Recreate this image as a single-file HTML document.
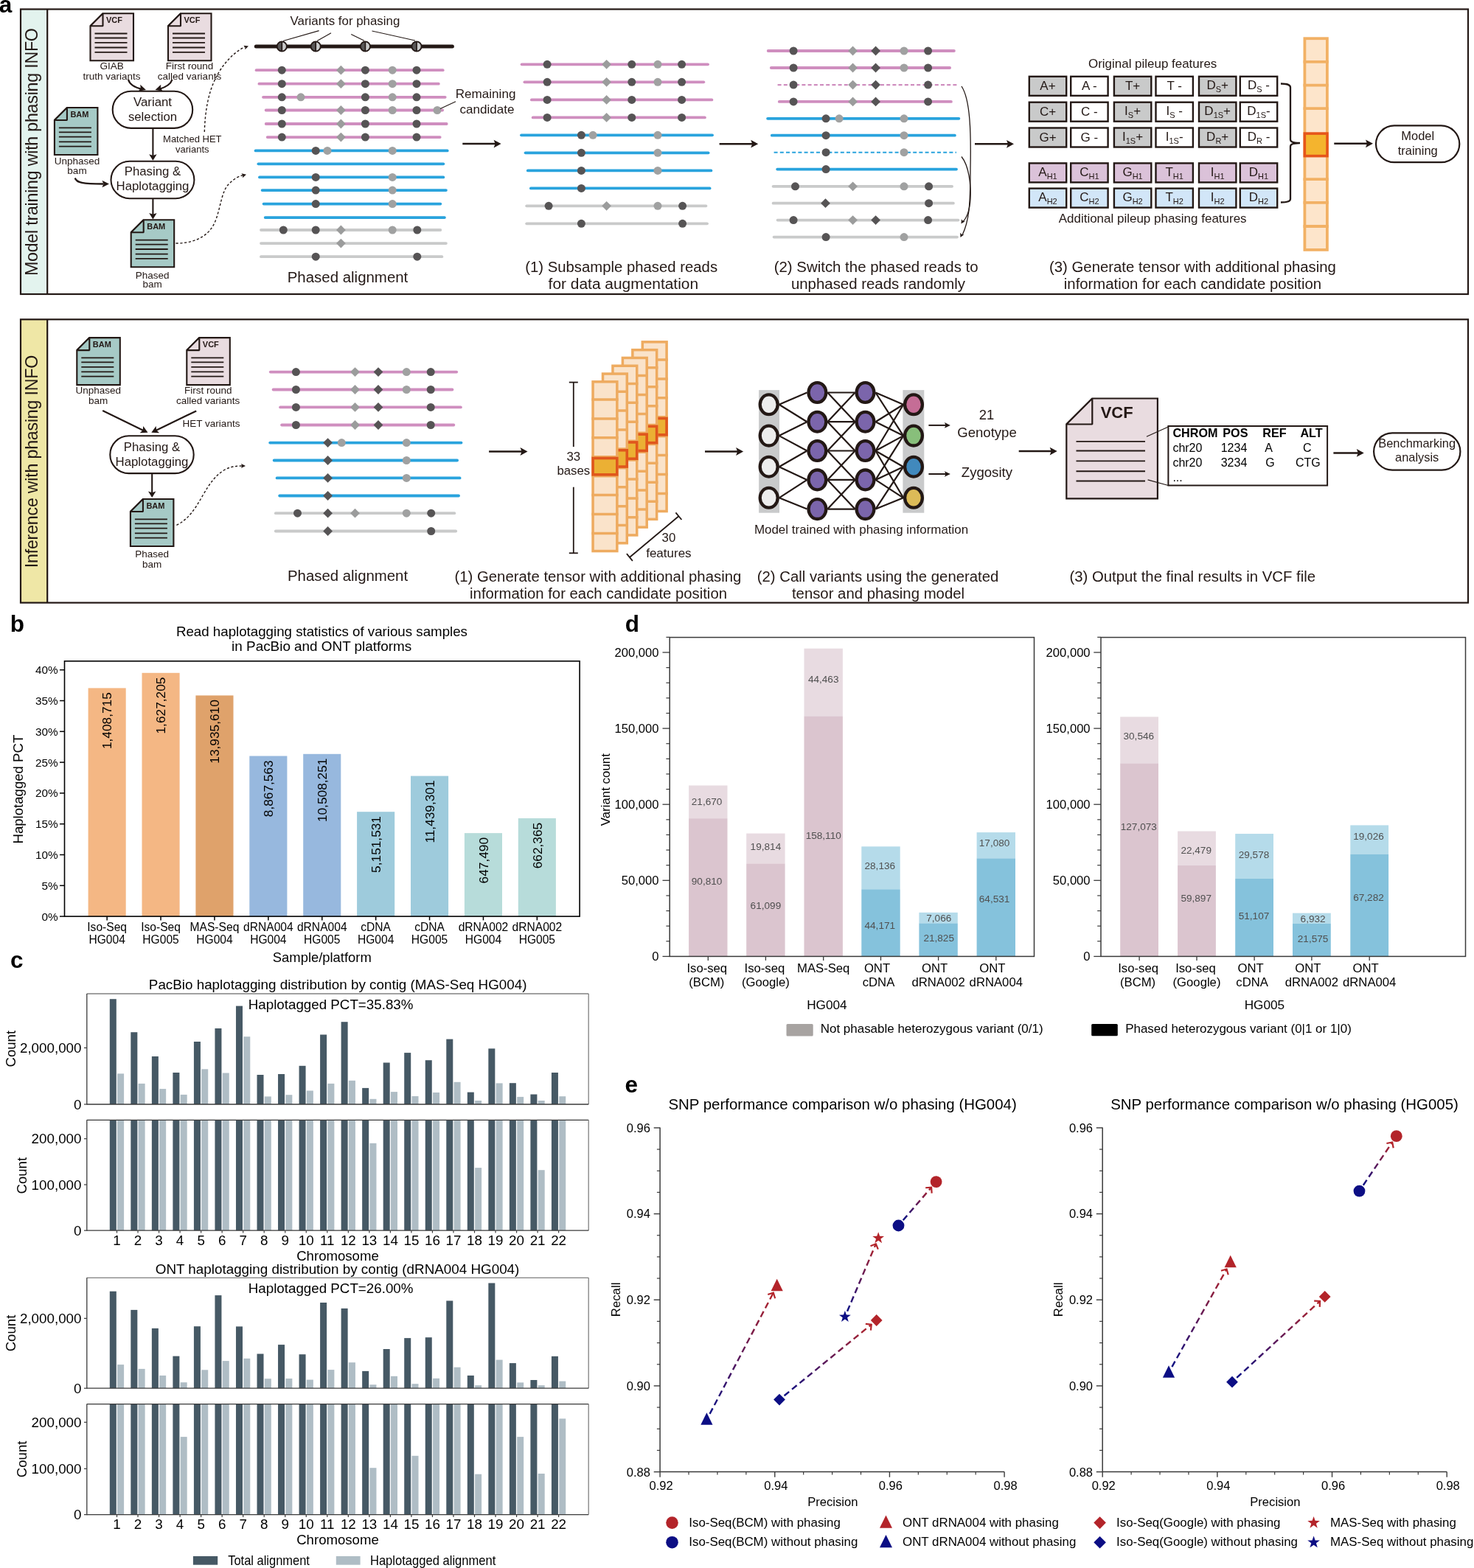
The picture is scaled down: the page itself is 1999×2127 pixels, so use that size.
<!DOCTYPE html>
<html><head><meta charset="utf-8"><title>Figure</title>
<style>
html,body{margin:0;padding:0;background:#fff;}
svg{display:block;}
text{font-family:'Liberation Sans', Arial, sans-serif;}
</style></head>
<body>
<svg width="1999" height="2127" viewBox="0 0 1999 2127">
<rect width="1999" height="2127" fill="#fff"/>
<text x="-1.3" y="17.3" font-size="31.5" font-weight="bold">a</text>
<rect x="28" y="12.5" width="36.2" height="386.5" fill="#e3f3ee"/>
<rect x="28" y="12.5" width="1963" height="386.5" fill="none" stroke="#231815" stroke-width="2.2"/>
<line x1="64.2" y1="12.5" x2="64.2" y2="399" stroke="#231815" stroke-width="2.2"/>
<text x="51.2" y="206.1" font-size="23.2" text-anchor="middle" fill="#231815" transform="rotate(-90 51.2 206.1)" textLength="336" lengthAdjust="spacing">Model training with phasing INFO</text>
<rect x="28" y="433.3" width="36.2" height="384.3" fill="#efe7a6"/>
<rect x="28" y="433.3" width="1963" height="384.3" fill="none" stroke="#231815" stroke-width="2.2"/>
<line x1="64.2" y1="433.3" x2="64.2" y2="817.6" stroke="#231815" stroke-width="2.2"/>
<text x="51.2" y="626" font-size="23.2" text-anchor="middle" fill="#231815" transform="rotate(-90 51.2 626)" textLength="288.5" lengthAdjust="spacing">Inference with phasing INFO</text>
<path d="M139.5,18.2 L181,18.2 L181,82.2 L122.5,82.2 L122.5,35.2 Z" fill="#e9dce0" stroke="#231815" stroke-width="2.1" stroke-linejoin="miter" stroke-miterlimit="2"/>
<path d="M122.5,35.2 L139.5,35.2 L139.5,18.2 Z" fill="#e9dce0" stroke="#231815" stroke-width="2.1" stroke-linejoin="bevel"/>
<text x="144" y="31" font-size="11" font-weight="bold" fill="#231815">VCF</text>
<line x1="128.5" y1="45.5" x2="172.5" y2="45.5" stroke="#231815" stroke-width="1.8"/>
<line x1="128.5" y1="51.5" x2="172.5" y2="51.5" stroke="#231815" stroke-width="1.8"/>
<line x1="128.5" y1="57.9" x2="172.5" y2="57.9" stroke="#231815" stroke-width="1.8"/>
<line x1="128.5" y1="64.5" x2="172.5" y2="64.5" stroke="#231815" stroke-width="1.8"/>
<line x1="128.5" y1="70.8" x2="172.5" y2="70.8" stroke="#231815" stroke-width="1.8"/>
<path d="M245,18.2 L286.5,18.2 L286.5,82.2 L228,82.2 L228,35.2 Z" fill="#e9dce0" stroke="#231815" stroke-width="2.1" stroke-linejoin="miter" stroke-miterlimit="2"/>
<path d="M228,35.2 L245,35.2 L245,18.2 Z" fill="#e9dce0" stroke="#231815" stroke-width="2.1" stroke-linejoin="bevel"/>
<text x="249.5" y="31" font-size="11" font-weight="bold" fill="#231815">VCF</text>
<line x1="234" y1="45.5" x2="278" y2="45.5" stroke="#231815" stroke-width="1.8"/>
<line x1="234" y1="51.5" x2="278" y2="51.5" stroke="#231815" stroke-width="1.8"/>
<line x1="234" y1="57.9" x2="278" y2="57.9" stroke="#231815" stroke-width="1.8"/>
<line x1="234" y1="64.5" x2="278" y2="64.5" stroke="#231815" stroke-width="1.8"/>
<line x1="234" y1="70.8" x2="278" y2="70.8" stroke="#231815" stroke-width="1.8"/>
<path d="M90.9,146 L132.4,146 L132.4,210 L73.9,210 L73.9,163 Z" fill="#a6cac6" stroke="#231815" stroke-width="2.1" stroke-linejoin="miter" stroke-miterlimit="2"/>
<path d="M73.9,163 L90.9,163 L90.9,146 Z" fill="#a6cac6" stroke="#231815" stroke-width="2.1" stroke-linejoin="bevel"/>
<text x="95.4" y="158.8" font-size="11" font-weight="bold" fill="#231815">BAM</text>
<line x1="79.9" y1="173.3" x2="123.9" y2="173.3" stroke="#231815" stroke-width="1.8"/>
<line x1="79.9" y1="179.3" x2="123.9" y2="179.3" stroke="#231815" stroke-width="1.8"/>
<line x1="79.9" y1="185.7" x2="123.9" y2="185.7" stroke="#231815" stroke-width="1.8"/>
<line x1="79.9" y1="192.3" x2="123.9" y2="192.3" stroke="#231815" stroke-width="1.8"/>
<line x1="79.9" y1="198.6" x2="123.9" y2="198.6" stroke="#231815" stroke-width="1.8"/>
<path d="M194.7,298.3 L236.2,298.3 L236.2,362.3 L177.7,362.3 L177.7,315.3 Z" fill="#a6cac6" stroke="#231815" stroke-width="2.1" stroke-linejoin="miter" stroke-miterlimit="2"/>
<path d="M177.7,315.3 L194.7,315.3 L194.7,298.3 Z" fill="#a6cac6" stroke="#231815" stroke-width="2.1" stroke-linejoin="bevel"/>
<text x="199.2" y="311.1" font-size="11" font-weight="bold" fill="#231815">BAM</text>
<line x1="183.7" y1="325.6" x2="227.7" y2="325.6" stroke="#231815" stroke-width="1.8"/>
<line x1="183.7" y1="331.6" x2="227.7" y2="331.6" stroke="#231815" stroke-width="1.8"/>
<line x1="183.7" y1="338" x2="227.7" y2="338" stroke="#231815" stroke-width="1.8"/>
<line x1="183.7" y1="344.6" x2="227.7" y2="344.6" stroke="#231815" stroke-width="1.8"/>
<line x1="183.7" y1="350.9" x2="227.7" y2="350.9" stroke="#231815" stroke-width="1.8"/>
<text x="151.6" y="93.8" font-size="13.5" text-anchor="middle" fill="#231815">GIAB</text>
<text x="151.6" y="107.7" font-size="13.5" text-anchor="middle" fill="#231815">truth  variants</text>
<text x="257" y="93.8" font-size="13.5" text-anchor="middle" fill="#231815">First round</text>
<text x="257" y="107.7" font-size="13.5" text-anchor="middle" fill="#231815">called variants</text>
<text x="104.5" y="222.7" font-size="13.5" text-anchor="middle" fill="#231815">Unphased</text>
<text x="104.5" y="235.5" font-size="13.5" text-anchor="middle" fill="#231815">bam</text>
<text x="260.8" y="193.4" font-size="13" text-anchor="middle" fill="#231815">Matched HET</text>
<text x="260.8" y="207.3" font-size="13" text-anchor="middle" fill="#231815">variants</text>
<text x="206.6" y="378" font-size="13.5" text-anchor="middle" fill="#231815">Phased</text>
<text x="206.6" y="389.9" font-size="13.5" text-anchor="middle" fill="#231815">bam</text>
<rect x="152.7" y="123.8" width="108.5" height="50.1" fill="#fff" stroke="#231815" stroke-width="2.1" rx="25.05" ry="25.05"/>
<text x="207" y="143.5" font-size="16.8" text-anchor="middle" fill="#231815">Variant</text>
<text x="207" y="163.8" font-size="16.8" text-anchor="middle" fill="#231815">selection</text>
<rect x="150.5" y="218.8" width="112.9" height="50.4" fill="#fff" stroke="#231815" stroke-width="2.1" rx="25.2" ry="25.2"/>
<text x="207" y="238.1" font-size="16.8" text-anchor="middle" fill="#231815">Phasing &amp;</text>
<text x="207" y="258" font-size="16.8" text-anchor="middle" fill="#231815">Haplotagging</text>
<line x1="207.4" y1="174.5" x2="207.4" y2="211.85" stroke="#231815" stroke-width="2.1"/>
<polygon points="207.4,217.8 202.2,209.3 207.4,211 212.6,209.3" fill="#231815"/>
<line x1="207.4" y1="269.5" x2="207.4" y2="291.55" stroke="#231815" stroke-width="2.1"/>
<polygon points="207.4,297.5 202.2,289 207.4,290.7 212.6,289" fill="#231815"/>
<path d="M174,108 C176,115 182,118.5 192,120.8" fill="none" stroke="#231815" stroke-width="2.3"/>
<polygon points="198,122 187.58,123.68 190.72,119.82 190.22,114.86" fill="#231815"/>
<path d="M233.5,108 C231.5,114 226,118 216,120.8" fill="none" stroke="#231815" stroke-width="2.3"/>
<polygon points="210.5,122 218.28,114.86 217.78,119.82 220.92,123.68" fill="#231815"/>
<path d="M101.7,241.5 C104,248 112,249.5 140,249.5" fill="none" stroke="#231815" stroke-width="2.3"/>
<polygon points="148,249.5 138.5,254.3 140.4,249.5 138.5,244.7" fill="#231815"/>
<path d="M277.3,179 C278,150 283,125 292,107 C300,90 315,72 332,63.5" fill="none" stroke="#231815" stroke-width="1.4" stroke-dasharray="3.2 2.6"/>
<polygon points="337,62.5 332.33,67.31 332.47,64.09 330.35,61.65" fill="#231815"/>
<path d="M238.5,330 C262,330 283,322 292,300 C300,280 300,258 312,248 C318,242 324,239 330,237.5" fill="none" stroke="#231815" stroke-width="1.4" stroke-dasharray="3.2 2.6"/>
<polygon points="334,236.8 328.91,241.17 329.34,237.96 327.45,235.34" fill="#231815"/>
<text x="393.5" y="33.8" font-size="16.6" fill="#231815" textLength="148.8" lengthAdjust="spacingAndGlyphs">Variants for phasing</text>
<line x1="347.3" y1="63" x2="613.4" y2="63" stroke="#231815" stroke-width="5" stroke-linecap="round"/>
<circle cx="382.3" cy="63" r="6.6" fill="#595757"/>
<path d="M382.3,56.4 A6.6,6.6 0 0 1 382.3,69.6 Z" fill="#c9caca"/>
<line x1="382.3" y1="56.5" x2="382.3" y2="69.5" stroke="#231815" stroke-width="1.7"/>
<circle cx="382.3" cy="63" r="6.6" fill="none" stroke="#231815" stroke-width="1.9"/>
<circle cx="428.2" cy="63" r="6.6" fill="#595757"/>
<path d="M428.2,56.4 A6.6,6.6 0 0 1 428.2,69.6 Z" fill="#c9caca"/>
<line x1="428.2" y1="56.5" x2="428.2" y2="69.5" stroke="#231815" stroke-width="1.7"/>
<circle cx="428.2" cy="63" r="6.6" fill="none" stroke="#231815" stroke-width="1.9"/>
<circle cx="495.4" cy="63" r="6.6" fill="#595757"/>
<path d="M495.4,56.4 A6.6,6.6 0 0 1 495.4,69.6 Z" fill="#c9caca"/>
<line x1="495.4" y1="56.5" x2="495.4" y2="69.5" stroke="#231815" stroke-width="1.7"/>
<circle cx="495.4" cy="63" r="6.6" fill="none" stroke="#231815" stroke-width="1.9"/>
<circle cx="565" cy="63" r="6.6" fill="#595757"/>
<path d="M565,56.4 A6.6,6.6 0 0 1 565,69.6 Z" fill="#c9caca"/>
<line x1="565" y1="56.5" x2="565" y2="69.5" stroke="#231815" stroke-width="1.7"/>
<circle cx="565" cy="63" r="6.6" fill="none" stroke="#231815" stroke-width="1.9"/>
<line x1="432.6" y1="41.6" x2="384" y2="55.5" stroke="#231815" stroke-width="1.1"/>
<line x1="449" y1="44.8" x2="430" y2="55.5" stroke="#231815" stroke-width="1.1"/>
<line x1="476.2" y1="46.5" x2="494" y2="55.3" stroke="#231815" stroke-width="1.1"/>
<line x1="504.5" y1="42" x2="563" y2="55" stroke="#231815" stroke-width="1.1"/>
<line x1="347.6" y1="95.2" x2="600.7" y2="95.2" stroke="#cf8ebf" stroke-width="3.8" stroke-linecap="round"/>
<circle cx="382.3" cy="95.2" r="5.5" fill="#565455"/>
<polygon points="462.4,88.8 468.8,95.2 462.4,101.6 456,95.2" fill="#9b9c9c"/>
<circle cx="495.4" cy="95.2" r="5.5" fill="#565455"/>
<circle cx="532.2" cy="95.2" r="5.5" fill="#a0a1a1"/>
<circle cx="565" cy="95.2" r="5.5" fill="#565455"/>
<line x1="351.4" y1="113.7" x2="594.8" y2="113.7" stroke="#cf8ebf" stroke-width="3.8" stroke-linecap="round"/>
<circle cx="382.3" cy="113.7" r="5.5" fill="#565455"/>
<polygon points="462.4,107.3 468.8,113.7 462.4,120.1 456,113.7" fill="#9b9c9c"/>
<circle cx="495.4" cy="113.7" r="5.5" fill="#565455"/>
<circle cx="532.2" cy="113.7" r="5.5" fill="#a0a1a1"/>
<circle cx="565" cy="113.7" r="5.5" fill="#565455"/>
<line x1="357" y1="131.8" x2="603.7" y2="131.8" stroke="#cf8ebf" stroke-width="3.8" stroke-linecap="round"/>
<circle cx="382.3" cy="131.8" r="5.5" fill="#565455"/>
<circle cx="408" cy="131.8" r="5.5" fill="#a0a1a1"/>
<circle cx="495.4" cy="131.8" r="5.5" fill="#565455"/>
<circle cx="532.2" cy="131.8" r="5.5" fill="#a0a1a1"/>
<circle cx="565" cy="131.8" r="5.5" fill="#565455"/>
<line x1="360.7" y1="149.5" x2="600.1" y2="149.5" stroke="#cf8ebf" stroke-width="3.8" stroke-linecap="round"/>
<circle cx="382.3" cy="149.5" r="5.5" fill="#565455"/>
<polygon points="462.4,143.1 468.8,149.5 462.4,155.9 456,149.5" fill="#9b9c9c"/>
<circle cx="495.4" cy="149.5" r="5.5" fill="#565455"/>
<circle cx="532.2" cy="149.5" r="5.5" fill="#a0a1a1"/>
<circle cx="565" cy="149.5" r="5.5" fill="#565455"/>
<circle cx="593" cy="149.5" r="5.5" fill="#a0a1a1"/>
<line x1="360.7" y1="168" x2="605.7" y2="168" stroke="#cf8ebf" stroke-width="3.8" stroke-linecap="round"/>
<circle cx="382.3" cy="168" r="5.5" fill="#565455"/>
<polygon points="462.4,161.6 468.8,168 462.4,174.4 456,168" fill="#9b9c9c"/>
<circle cx="495.4" cy="168" r="5.5" fill="#565455"/>
<circle cx="565" cy="168" r="5.5" fill="#565455"/>
<line x1="362.7" y1="186.1" x2="596.7" y2="186.1" stroke="#cf8ebf" stroke-width="3.8" stroke-linecap="round"/>
<circle cx="382.3" cy="186.1" r="5.5" fill="#565455"/>
<polygon points="462.4,179.7 468.8,186.1 462.4,192.5 456,186.1" fill="#9b9c9c"/>
<circle cx="495.4" cy="186.1" r="5.5" fill="#565455"/>
<circle cx="565" cy="186.1" r="5.5" fill="#565455"/>
<line x1="346.6" y1="204.4" x2="606.7" y2="204.4" stroke="#29a3dd" stroke-width="3.8" stroke-linecap="round"/>
<circle cx="428.2" cy="204.4" r="5.5" fill="#565455"/>
<circle cx="444" cy="204.4" r="5.5" fill="#a0a1a1"/>
<circle cx="532.2" cy="204.4" r="5.5" fill="#a0a1a1"/>
<line x1="350.4" y1="222.3" x2="601.3" y2="222.3" stroke="#29a3dd" stroke-width="3.8" stroke-linecap="round"/>
<line x1="352" y1="240.4" x2="601.3" y2="240.4" stroke="#29a3dd" stroke-width="3.8" stroke-linecap="round"/>
<circle cx="428.2" cy="240.4" r="5.5" fill="#565455"/>
<circle cx="532.2" cy="240.4" r="5.5" fill="#a0a1a1"/>
<line x1="355.6" y1="258.1" x2="604.9" y2="258.1" stroke="#29a3dd" stroke-width="3.8" stroke-linecap="round"/>
<circle cx="428.2" cy="258.1" r="5.5" fill="#565455"/>
<circle cx="532.2" cy="258.1" r="5.5" fill="#a0a1a1"/>
<line x1="357.6" y1="276.6" x2="597.3" y2="276.6" stroke="#29a3dd" stroke-width="3.8" stroke-linecap="round"/>
<circle cx="428.2" cy="276.6" r="5.5" fill="#565455"/>
<circle cx="532.2" cy="276.6" r="5.5" fill="#a0a1a1"/>
<line x1="359.7" y1="295.1" x2="602.9" y2="295.1" stroke="#29a3dd" stroke-width="3.8" stroke-linecap="round"/>
<line x1="354" y1="312" x2="597.3" y2="312" stroke="#c9caca" stroke-width="3.8" stroke-linecap="round"/>
<circle cx="384.3" cy="312" r="5.5" fill="#565455"/>
<circle cx="428.2" cy="312" r="5.5" fill="#565455"/>
<polygon points="462.4,305.6 468.8,312 462.4,318.4 456,312" fill="#9b9c9c"/>
<circle cx="532.2" cy="312" r="5.5" fill="#a0a1a1"/>
<circle cx="565.8" cy="312" r="5.5" fill="#565455"/>
<line x1="354" y1="330.1" x2="604.9" y2="330.1" stroke="#c9caca" stroke-width="3.8" stroke-linecap="round"/>
<polygon points="462.4,323.7 468.8,330.1 462.4,336.5 456,330.1" fill="#9b9c9c"/>
<line x1="354" y1="348.2" x2="599.3" y2="348.2" stroke="#c9caca" stroke-width="3.8" stroke-linecap="round"/>
<circle cx="428.2" cy="348.2" r="5.5" fill="#565455"/>
<circle cx="565.8" cy="348.2" r="5.5" fill="#565455"/>
<text x="617.8" y="133" font-size="16.5" fill="#231815" textLength="81.59" lengthAdjust="spacingAndGlyphs">Remaining</text>
<text x="623.4" y="153.6" font-size="16.5" fill="#231815" textLength="74.09" lengthAdjust="spacingAndGlyphs">candidate</text>
<line x1="618" y1="137.8" x2="597" y2="147.5" stroke="#231815" stroke-width="1.1"/>
<text x="389.72" y="383.2" font-size="19.5" fill="#231815" textLength="163.57" lengthAdjust="spacingAndGlyphs">Phased alignment</text>
<line x1="627.3" y1="195.1" x2="672.6" y2="195.1" stroke="#231815" stroke-width="2.5"/>
<polygon points="679.6,195.1 669.6,200.5 671.6,195.1 669.6,189.7" fill="#231815"/>
<line x1="707.6" y1="87.3" x2="960" y2="87.3" stroke="#cf8ebf" stroke-width="3.8" stroke-linecap="round"/>
<circle cx="742.1" cy="87.3" r="5.5" fill="#565455"/>
<polygon points="822.6,80.9 829,87.3 822.6,93.7 816.2,87.3" fill="#9b9c9c"/>
<circle cx="856.8" cy="87.3" r="5.5" fill="#565455"/>
<circle cx="892" cy="87.3" r="5.5" fill="#a0a1a1"/>
<circle cx="924.6" cy="87.3" r="5.5" fill="#565455"/>
<line x1="711.4" y1="111.3" x2="954.3" y2="111.3" stroke="#cf8ebf" stroke-width="3.8" stroke-linecap="round"/>
<circle cx="742.1" cy="111.3" r="5.5" fill="#565455"/>
<polygon points="822.6,104.9 829,111.3 822.6,117.7 816.2,111.3" fill="#9b9c9c"/>
<circle cx="856.8" cy="111.3" r="5.5" fill="#565455"/>
<circle cx="892" cy="111.3" r="5.5" fill="#a0a1a1"/>
<circle cx="924.6" cy="111.3" r="5.5" fill="#565455"/>
<line x1="720.9" y1="135.4" x2="965.4" y2="135.4" stroke="#cf8ebf" stroke-width="3.8" stroke-linecap="round"/>
<circle cx="742.1" cy="135.4" r="5.5" fill="#565455"/>
<polygon points="822.6,129 829,135.4 822.6,141.8 816.2,135.4" fill="#9b9c9c"/>
<circle cx="856.8" cy="135.4" r="5.5" fill="#565455"/>
<circle cx="924.6" cy="135.4" r="5.5" fill="#565455"/>
<line x1="722.7" y1="159.4" x2="955.9" y2="159.4" stroke="#cf8ebf" stroke-width="3.8" stroke-linecap="round"/>
<circle cx="742.1" cy="159.4" r="5.5" fill="#565455"/>
<polygon points="822.6,153 829,159.4 822.6,165.8 816.2,159.4" fill="#9b9c9c"/>
<circle cx="856.8" cy="159.4" r="5.5" fill="#565455"/>
<circle cx="924.6" cy="159.4" r="5.5" fill="#565455"/>
<line x1="707" y1="183.3" x2="966" y2="183.3" stroke="#29a3dd" stroke-width="3.8" stroke-linecap="round"/>
<circle cx="788.4" cy="183.3" r="5.5" fill="#565455"/>
<circle cx="804.1" cy="183.3" r="5.5" fill="#a0a1a1"/>
<circle cx="892" cy="183.3" r="5.5" fill="#a0a1a1"/>
<line x1="712.6" y1="207.3" x2="960.6" y2="207.3" stroke="#29a3dd" stroke-width="3.8" stroke-linecap="round"/>
<circle cx="788.4" cy="207.3" r="5.5" fill="#565455"/>
<circle cx="892" cy="207.3" r="5.5" fill="#a0a1a1"/>
<line x1="715.8" y1="231.4" x2="964.4" y2="231.4" stroke="#29a3dd" stroke-width="3.8" stroke-linecap="round"/>
<circle cx="788.4" cy="231.4" r="5.5" fill="#565455"/>
<circle cx="892" cy="231.4" r="5.5" fill="#a0a1a1"/>
<line x1="719.9" y1="255.4" x2="962.6" y2="255.4" stroke="#29a3dd" stroke-width="3.8" stroke-linecap="round"/>
<circle cx="788.4" cy="255.4" r="5.5" fill="#565455"/>
<line x1="714.2" y1="279.3" x2="957.4" y2="279.3" stroke="#c9caca" stroke-width="3.8" stroke-linecap="round"/>
<circle cx="744.1" cy="279.3" r="5.5" fill="#565455"/>
<polygon points="822.6,272.9 829,279.3 822.6,285.7 816.2,279.3" fill="#9b9c9c"/>
<circle cx="892" cy="279.3" r="5.5" fill="#a0a1a1"/>
<circle cx="925.6" cy="279.3" r="5.5" fill="#565455"/>
<line x1="714.2" y1="303.3" x2="959" y2="303.3" stroke="#c9caca" stroke-width="3.8" stroke-linecap="round"/>
<circle cx="788.4" cy="303.3" r="5.5" fill="#565455"/>
<circle cx="925.6" cy="303.3" r="5.5" fill="#565455"/>
<text x="712.21" y="368.6" font-size="19.5" fill="#231815" textLength="260.87" lengthAdjust="spacingAndGlyphs">(1) Subsample phased reads</text>
<text x="743.62" y="392.2" font-size="19.5" fill="#231815" textLength="203.47" lengthAdjust="spacingAndGlyphs">for data  augmentation</text>
<line x1="975.6" y1="195.2" x2="1021.2" y2="195.2" stroke="#231815" stroke-width="2.5"/>
<polygon points="1028.2,195.2 1018.2,200.6 1020.2,195.2 1018.2,189.8" fill="#231815"/>
<line x1="1041.7" y1="69" x2="1293.9" y2="69" stroke="#cf8ebf" stroke-width="3.8" stroke-linecap="round"/>
<circle cx="1076.1" cy="69" r="5.5" fill="#565455"/>
<polygon points="1156.6,62.6 1163,69 1156.6,75.4 1150.2,69" fill="#9b9c9c"/>
<polygon points="1187.6,62.6 1194,69 1187.6,75.4 1181.2,69" fill="#565455"/>
<circle cx="1226" cy="69" r="5.5" fill="#a0a1a1"/>
<circle cx="1258.6" cy="69" r="5.5" fill="#565455"/>
<line x1="1045.8" y1="92" x2="1288.1" y2="92" stroke="#cf8ebf" stroke-width="3.8" stroke-linecap="round"/>
<circle cx="1076.1" cy="92" r="5.5" fill="#565455"/>
<polygon points="1156.6,85.6 1163,92 1156.6,98.4 1150.2,92" fill="#9b9c9c"/>
<polygon points="1187.6,85.6 1194,92 1187.6,98.4 1181.2,92" fill="#565455"/>
<circle cx="1226" cy="92" r="5.5" fill="#a0a1a1"/>
<circle cx="1258.6" cy="92" r="5.5" fill="#565455"/>
<line x1="1054.6" y1="115.1" x2="1299" y2="115.1" stroke="#cf8ebf" stroke-width="2.09" stroke-dasharray="5 3.2"/>
<circle cx="1076.1" cy="115.1" r="5.5" fill="#565455"/>
<polygon points="1156.6,108.7 1163,115.1 1156.6,121.5 1150.2,115.1" fill="#9b9c9c"/>
<polygon points="1187.6,108.7 1194,115.1 1187.6,121.5 1181.2,115.1" fill="#565455"/>
<circle cx="1258.6" cy="115.1" r="5.5" fill="#565455"/>
<line x1="1056.8" y1="137.9" x2="1289.9" y2="137.9" stroke="#cf8ebf" stroke-width="3.8" stroke-linecap="round"/>
<circle cx="1076.1" cy="137.9" r="5.5" fill="#565455"/>
<polygon points="1156.6,131.5 1163,137.9 1156.6,144.3 1150.2,137.9" fill="#9b9c9c"/>
<polygon points="1187.6,131.5 1194,137.9 1187.6,144.3 1181.2,137.9" fill="#565455"/>
<circle cx="1258.6" cy="137.9" r="5.5" fill="#565455"/>
<line x1="1041.1" y1="160.8" x2="1300.4" y2="160.8" stroke="#29a3dd" stroke-width="3.8" stroke-linecap="round"/>
<circle cx="1120.1" cy="160.8" r="5.5" fill="#565455"/>
<circle cx="1138.1" cy="160.8" r="5.5" fill="#a0a1a1"/>
<circle cx="1226" cy="160.8" r="5.5" fill="#a0a1a1"/>
<line x1="1046.8" y1="183.7" x2="1294.9" y2="183.7" stroke="#29a3dd" stroke-width="3.8" stroke-linecap="round"/>
<circle cx="1120.1" cy="183.7" r="5.5" fill="#565455"/>
<circle cx="1226" cy="183.7" r="5.5" fill="#a0a1a1"/>
<line x1="1049.6" y1="206.7" x2="1297" y2="206.7" stroke="#29a3dd" stroke-width="2.09" stroke-dasharray="5 3.2"/>
<circle cx="1120.1" cy="206.7" r="5.5" fill="#565455"/>
<circle cx="1226" cy="206.7" r="5.5" fill="#a0a1a1"/>
<line x1="1054.2" y1="229.6" x2="1297" y2="229.6" stroke="#29a3dd" stroke-width="3.8" stroke-linecap="round"/>
<circle cx="1120.1" cy="229.6" r="5.5" fill="#565455"/>
<line x1="1048.6" y1="252.8" x2="1291.1" y2="252.8" stroke="#c9caca" stroke-width="3.8" stroke-linecap="round"/>
<circle cx="1078.5" cy="252.8" r="5.5" fill="#565455"/>
<polygon points="1156.6,246.4 1163,252.8 1156.6,259.2 1150.2,252.8" fill="#9b9c9c"/>
<circle cx="1226" cy="252.8" r="5.5" fill="#a0a1a1"/>
<circle cx="1259.6" cy="252.8" r="5.5" fill="#565455"/>
<line x1="1048.6" y1="275.7" x2="1292.9" y2="275.7" stroke="#c9caca" stroke-width="3.8" stroke-linecap="round"/>
<polygon points="1119.5,269.3 1125.9,275.7 1119.5,282.1 1113.1,275.7" fill="#565455"/>
<circle cx="1259.6" cy="275.7" r="5.5" fill="#565455"/>
<line x1="1054.6" y1="298.6" x2="1299.4" y2="298.6" stroke="#c9caca" stroke-width="3.8" stroke-linecap="round"/>
<circle cx="1076.1" cy="298.6" r="5.5" fill="#565455"/>
<polygon points="1156.6,292.2 1163,298.6 1156.6,305 1150.2,298.6" fill="#9b9c9c"/>
<polygon points="1187.6,292.2 1194,298.6 1187.6,305 1181.2,298.6" fill="#565455"/>
<circle cx="1258.6" cy="298.6" r="5.5" fill="#565455"/>
<line x1="1049.6" y1="321.6" x2="1298" y2="321.6" stroke="#c9caca" stroke-width="3.8" stroke-linecap="round"/>
<circle cx="1120.1" cy="321.6" r="5.5" fill="#565455"/>
<circle cx="1226" cy="321.6" r="5.5" fill="#a0a1a1"/>
<path d="M1304,117 C1316,135 1317,180 1316,230 C1316,280 1314,300 1305,319" fill="none" stroke="#231815" stroke-width="1.3"/>
<polygon points="1302.5,322 1302.2,315.84 1304.31,317.99 1307.31,318.13" fill="#231815"/>
<path d="M1304,212.5 C1314,225 1317,250 1316,270 C1315,285 1312,295 1305.5,301" fill="none" stroke="#231815" stroke-width="1.3"/>
<polygon points="1303.5,303.5 1303.93,297.34 1305.76,299.73 1308.73,300.22" fill="#231815"/>
<text x="1049.71" y="368.6" font-size="19.5" fill="#231815" textLength="276.87" lengthAdjust="spacingAndGlyphs">(2) Switch the phased reads to</text>
<text x="1072.91" y="392.2" font-size="19.5" fill="#231815" textLength="235.97" lengthAdjust="spacingAndGlyphs">unphased reads randomly</text>
<line x1="1322" y1="195.3" x2="1368" y2="195.3" stroke="#231815" stroke-width="2.5"/>
<polygon points="1375,195.3 1365,200.7 1367,195.3 1365,189.9" fill="#231815"/>
<text x="1476.01" y="92.2" font-size="16.3" fill="#231815" textLength="174.28" lengthAdjust="spacingAndGlyphs">Original pileup features</text>
<text x="1435.71" y="301.7" font-size="16.3" fill="#231815" textLength="254.88" lengthAdjust="spacingAndGlyphs">Additional pileup phasing features</text>
<rect x="1395.8" y="103.8" width="50.4" height="26" fill="#c9caca" stroke="#231815" stroke-width="2.4"/>
<text x="1421" y="122.2" font-size="17" text-anchor="middle" fill="#231815">A+</text>
<rect x="1452.2" y="103.8" width="50.4" height="26" fill="#fff" stroke="#231815" stroke-width="2.4"/>
<text x="1477.4" y="122.2" font-size="17" text-anchor="middle" fill="#231815">A -</text>
<rect x="1510.9" y="103.8" width="50.4" height="26" fill="#c9caca" stroke="#231815" stroke-width="2.4"/>
<text x="1536.1" y="122.2" font-size="17" text-anchor="middle" fill="#231815">T+</text>
<rect x="1567.5" y="103.8" width="50.4" height="26" fill="#fff" stroke="#231815" stroke-width="2.4"/>
<text x="1592.7" y="122.2" font-size="17" text-anchor="middle" fill="#231815">T -</text>
<rect x="1626" y="103.8" width="50.4" height="26" fill="#c9caca" stroke="#231815" stroke-width="2.4"/>
<text x="1651.2" y="120.9" font-size="17" text-anchor="middle" fill="#231815">D<tspan font-size="11" dy="4">S</tspan><tspan dy="-4">+</tspan></text>
<rect x="1681.8" y="103.8" width="50.4" height="26" fill="#fff" stroke="#231815" stroke-width="2.4"/>
<text x="1707" y="120.9" font-size="17" text-anchor="middle" fill="#231815">D<tspan font-size="11" dy="4">S</tspan><tspan dy="-4"> -</tspan></text>
<rect x="1395.8" y="138.7" width="50.4" height="26" fill="#c9caca" stroke="#231815" stroke-width="2.4"/>
<text x="1421" y="157.1" font-size="17" text-anchor="middle" fill="#231815">C+</text>
<rect x="1452.2" y="138.7" width="50.4" height="26" fill="#fff" stroke="#231815" stroke-width="2.4"/>
<text x="1477.4" y="157.1" font-size="17" text-anchor="middle" fill="#231815">C -</text>
<rect x="1510.9" y="138.7" width="50.4" height="26" fill="#c9caca" stroke="#231815" stroke-width="2.4"/>
<text x="1536.1" y="155.8" font-size="17" text-anchor="middle" fill="#231815">I<tspan font-size="11" dy="4">S</tspan><tspan dy="-4">+</tspan></text>
<rect x="1567.5" y="138.7" width="50.4" height="26" fill="#fff" stroke="#231815" stroke-width="2.4"/>
<text x="1592.7" y="155.8" font-size="17" text-anchor="middle" fill="#231815">I<tspan font-size="11" dy="4">S</tspan><tspan dy="-4"> -</tspan></text>
<rect x="1626" y="138.7" width="50.4" height="26" fill="#c9caca" stroke="#231815" stroke-width="2.4"/>
<text x="1651.2" y="155.8" font-size="17" text-anchor="middle" fill="#231815">D<tspan font-size="11" dy="4">1S</tspan><tspan dy="-4">+</tspan></text>
<rect x="1681.8" y="138.7" width="50.4" height="26" fill="#fff" stroke="#231815" stroke-width="2.4"/>
<text x="1707" y="155.8" font-size="17" text-anchor="middle" fill="#231815">D<tspan font-size="11" dy="4">1S</tspan><tspan dy="-4">-</tspan></text>
<rect x="1395.8" y="173.5" width="50.4" height="26" fill="#c9caca" stroke="#231815" stroke-width="2.4"/>
<text x="1421" y="191.9" font-size="17" text-anchor="middle" fill="#231815">G+</text>
<rect x="1452.2" y="173.5" width="50.4" height="26" fill="#fff" stroke="#231815" stroke-width="2.4"/>
<text x="1477.4" y="191.9" font-size="17" text-anchor="middle" fill="#231815">G -</text>
<rect x="1510.9" y="173.5" width="50.4" height="26" fill="#c9caca" stroke="#231815" stroke-width="2.4"/>
<text x="1536.1" y="190.6" font-size="17" text-anchor="middle" fill="#231815">I<tspan font-size="11" dy="4">1S</tspan><tspan dy="-4">+</tspan></text>
<rect x="1567.5" y="173.5" width="50.4" height="26" fill="#fff" stroke="#231815" stroke-width="2.4"/>
<text x="1592.7" y="190.6" font-size="17" text-anchor="middle" fill="#231815">I<tspan font-size="11" dy="4">1S</tspan><tspan dy="-4">-</tspan></text>
<rect x="1626" y="173.5" width="50.4" height="26" fill="#c9caca" stroke="#231815" stroke-width="2.4"/>
<text x="1651.2" y="190.6" font-size="17" text-anchor="middle" fill="#231815">D<tspan font-size="11" dy="4">R</tspan><tspan dy="-4">+</tspan></text>
<rect x="1681.8" y="173.5" width="50.4" height="26" fill="#fff" stroke="#231815" stroke-width="2.4"/>
<text x="1707" y="190.6" font-size="17" text-anchor="middle" fill="#231815">D<tspan font-size="11" dy="4">R</tspan><tspan dy="-4"> -</tspan></text>
<rect x="1395.8" y="221.4" width="50.4" height="26" fill="#dbc2d9" stroke="#231815" stroke-width="2.4"/>
<text x="1421" y="238.5" font-size="17" text-anchor="middle" fill="#231815">A<tspan font-size="11" dy="4">H1</tspan></text>
<rect x="1452.2" y="221.4" width="50.4" height="26" fill="#dbc2d9" stroke="#231815" stroke-width="2.4"/>
<text x="1477.4" y="238.5" font-size="17" text-anchor="middle" fill="#231815">C<tspan font-size="11" dy="4">H1</tspan></text>
<rect x="1510.9" y="221.4" width="50.4" height="26" fill="#dbc2d9" stroke="#231815" stroke-width="2.4"/>
<text x="1536.1" y="238.5" font-size="17" text-anchor="middle" fill="#231815">G<tspan font-size="11" dy="4">H1</tspan></text>
<rect x="1567.5" y="221.4" width="50.4" height="26" fill="#dbc2d9" stroke="#231815" stroke-width="2.4"/>
<text x="1592.7" y="238.5" font-size="17" text-anchor="middle" fill="#231815">T<tspan font-size="11" dy="4">H1</tspan></text>
<rect x="1626" y="221.4" width="50.4" height="26" fill="#dbc2d9" stroke="#231815" stroke-width="2.4"/>
<text x="1651.2" y="238.5" font-size="17" text-anchor="middle" fill="#231815">I<tspan font-size="11" dy="4">H1</tspan></text>
<rect x="1681.8" y="221.4" width="50.4" height="26" fill="#dbc2d9" stroke="#231815" stroke-width="2.4"/>
<text x="1707" y="238.5" font-size="17" text-anchor="middle" fill="#231815">D<tspan font-size="11" dy="4">H1</tspan></text>
<rect x="1395.8" y="255.6" width="50.4" height="26" fill="#d2e6f8" stroke="#231815" stroke-width="2.4"/>
<text x="1421" y="272.7" font-size="17" text-anchor="middle" fill="#231815">A<tspan font-size="11" dy="4">H2</tspan></text>
<rect x="1452.2" y="255.6" width="50.4" height="26" fill="#d2e6f8" stroke="#231815" stroke-width="2.4"/>
<text x="1477.4" y="272.7" font-size="17" text-anchor="middle" fill="#231815">C<tspan font-size="11" dy="4">H2</tspan></text>
<rect x="1510.9" y="255.6" width="50.4" height="26" fill="#d2e6f8" stroke="#231815" stroke-width="2.4"/>
<text x="1536.1" y="272.7" font-size="17" text-anchor="middle" fill="#231815">G<tspan font-size="11" dy="4">H2</tspan></text>
<rect x="1567.5" y="255.6" width="50.4" height="26" fill="#d2e6f8" stroke="#231815" stroke-width="2.4"/>
<text x="1592.7" y="272.7" font-size="17" text-anchor="middle" fill="#231815">T<tspan font-size="11" dy="4">H2</tspan></text>
<rect x="1626" y="255.6" width="50.4" height="26" fill="#d2e6f8" stroke="#231815" stroke-width="2.4"/>
<text x="1651.2" y="272.7" font-size="17" text-anchor="middle" fill="#231815">I<tspan font-size="11" dy="4">H2</tspan></text>
<rect x="1681.8" y="255.6" width="50.4" height="26" fill="#d2e6f8" stroke="#231815" stroke-width="2.4"/>
<text x="1707" y="272.7" font-size="17" text-anchor="middle" fill="#231815">D<tspan font-size="11" dy="4">H2</tspan></text>
<path d="M1737,113.5 C1745,113.5 1750,114.5 1750,118.5 L1750,189 C1750,192 1752,193.8 1763,194 C1752,194.2 1750,196 1750,199 L1750,270 C1750,273 1745,274.5 1737,274.5" fill="none" stroke="#231815" stroke-width="2.3"/>
<rect x="1769.4" y="52.2" width="30.5" height="286.7" fill="#fde5cb" stroke="#f2b165" stroke-width="3.8"/>
<line x1="1767.5" y1="83.9" x2="1801.8" y2="83.9" stroke="#f2b165" stroke-width="3.8"/>
<line x1="1767.5" y1="115.7" x2="1801.8" y2="115.7" stroke="#f2b165" stroke-width="3.8"/>
<line x1="1767.5" y1="147.1" x2="1801.8" y2="147.1" stroke="#f2b165" stroke-width="3.8"/>
<line x1="1767.5" y1="243.1" x2="1801.8" y2="243.1" stroke="#f2b165" stroke-width="3.8"/>
<line x1="1767.5" y1="274.8" x2="1801.8" y2="274.8" stroke="#f2b165" stroke-width="3.8"/>
<line x1="1767.5" y1="307" x2="1801.8" y2="307" stroke="#f2b165" stroke-width="3.8"/>
<rect x="1769.3" y="181.1" width="30.7" height="30.5" fill="#f4b42e" stroke="#e6551a" stroke-width="3.6"/>
<line x1="1809.3" y1="194.8" x2="1855" y2="194.8" stroke="#231815" stroke-width="2.5"/>
<polygon points="1862,194.8 1852,200.2 1854,194.8 1852,189.4" fill="#231815"/>
<rect x="1866" y="170.4" width="113.3" height="49.8" fill="#fff" stroke="#231815" stroke-width="2.2" rx="24.9" ry="24.9"/>
<text x="1922.7" y="190" font-size="16.5" text-anchor="middle" fill="#231815">Model</text>
<text x="1922.7" y="210.2" font-size="16.5" text-anchor="middle" fill="#231815">training</text>
<text x="1423.01" y="368.6" font-size="19.5" fill="#231815" textLength="388.87" lengthAdjust="spacingAndGlyphs">(3) Generate tensor with additional phasing</text>
<text x="1442.82" y="392.2" font-size="19.5" fill="#231815" textLength="349.27" lengthAdjust="spacingAndGlyphs">information for each candidate position</text>
<path d="M121.3,458.1 L162.8,458.1 L162.8,522.1 L104.3,522.1 L104.3,475.1 Z" fill="#a6cac6" stroke="#231815" stroke-width="2.1" stroke-linejoin="miter" stroke-miterlimit="2"/>
<path d="M104.3,475.1 L121.3,475.1 L121.3,458.1 Z" fill="#a6cac6" stroke="#231815" stroke-width="2.1" stroke-linejoin="bevel"/>
<text x="125.8" y="470.9" font-size="11" font-weight="bold" fill="#231815">BAM</text>
<line x1="110.3" y1="485.4" x2="154.3" y2="485.4" stroke="#231815" stroke-width="1.8"/>
<line x1="110.3" y1="491.4" x2="154.3" y2="491.4" stroke="#231815" stroke-width="1.8"/>
<line x1="110.3" y1="497.8" x2="154.3" y2="497.8" stroke="#231815" stroke-width="1.8"/>
<line x1="110.3" y1="504.4" x2="154.3" y2="504.4" stroke="#231815" stroke-width="1.8"/>
<line x1="110.3" y1="510.7" x2="154.3" y2="510.7" stroke="#231815" stroke-width="1.8"/>
<path d="M270.3,458.1 L311.8,458.1 L311.8,522.1 L253.3,522.1 L253.3,475.1 Z" fill="#e9dce0" stroke="#231815" stroke-width="2.1" stroke-linejoin="miter" stroke-miterlimit="2"/>
<path d="M253.3,475.1 L270.3,475.1 L270.3,458.1 Z" fill="#e9dce0" stroke="#231815" stroke-width="2.1" stroke-linejoin="bevel"/>
<text x="274.8" y="470.9" font-size="11" font-weight="bold" fill="#231815">VCF</text>
<line x1="259.3" y1="485.4" x2="303.3" y2="485.4" stroke="#231815" stroke-width="1.8"/>
<line x1="259.3" y1="491.4" x2="303.3" y2="491.4" stroke="#231815" stroke-width="1.8"/>
<line x1="259.3" y1="497.8" x2="303.3" y2="497.8" stroke="#231815" stroke-width="1.8"/>
<line x1="259.3" y1="504.4" x2="303.3" y2="504.4" stroke="#231815" stroke-width="1.8"/>
<line x1="259.3" y1="510.7" x2="303.3" y2="510.7" stroke="#231815" stroke-width="1.8"/>
<path d="M193.9,677 L235.4,677 L235.4,741 L176.9,741 L176.9,694 Z" fill="#a6cac6" stroke="#231815" stroke-width="2.1" stroke-linejoin="miter" stroke-miterlimit="2"/>
<path d="M176.9,694 L193.9,694 L193.9,677 Z" fill="#a6cac6" stroke="#231815" stroke-width="2.1" stroke-linejoin="bevel"/>
<text x="198.4" y="689.8" font-size="11" font-weight="bold" fill="#231815">BAM</text>
<line x1="182.9" y1="704.3" x2="226.9" y2="704.3" stroke="#231815" stroke-width="1.8"/>
<line x1="182.9" y1="710.3" x2="226.9" y2="710.3" stroke="#231815" stroke-width="1.8"/>
<line x1="182.9" y1="716.7" x2="226.9" y2="716.7" stroke="#231815" stroke-width="1.8"/>
<line x1="182.9" y1="723.3" x2="226.9" y2="723.3" stroke="#231815" stroke-width="1.8"/>
<line x1="182.9" y1="729.6" x2="226.9" y2="729.6" stroke="#231815" stroke-width="1.8"/>
<text x="133.2" y="533.5" font-size="13.5" text-anchor="middle" fill="#231815">Unphased</text>
<text x="133.2" y="547.8" font-size="13.5" text-anchor="middle" fill="#231815">bam</text>
<text x="282.2" y="533.5" font-size="13.5" text-anchor="middle" fill="#231815">First round</text>
<text x="282.2" y="547.8" font-size="13.5" text-anchor="middle" fill="#231815">called variants</text>
<text x="286.5" y="578.9" font-size="13.5" text-anchor="middle" fill="#231815">HET variants</text>
<line x1="139.2" y1="557" x2="194.52" y2="583.89" stroke="#231815" stroke-width="2.2"/>
<polygon points="200.5,586.8 189.68,587.32 193.66,583.48 194.23,577.97" fill="#231815"/>
<line x1="266.2" y1="557.4" x2="211.29" y2="583.91" stroke="#231815" stroke-width="2.2"/>
<polygon points="205.3,586.8 211.59,577.99 212.14,583.5 216.12,587.35" fill="#231815"/>
<rect x="149.3" y="591.3" width="113.4" height="50.8" fill="#fff" stroke="#231815" stroke-width="2.1" rx="25.4" ry="25.4"/>
<text x="206" y="611.6" font-size="16.8" text-anchor="middle" fill="#231815">Phasing &amp;</text>
<text x="206" y="632" font-size="16.8" text-anchor="middle" fill="#231815">Haplotagging</text>
<line x1="206.2" y1="642.5" x2="206.2" y2="669.05" stroke="#231815" stroke-width="2.1"/>
<polygon points="206.2,675 201,666.5 206.2,668.2 211.4,666.5" fill="#231815"/>
<text x="206.2" y="755.8" font-size="13.5" text-anchor="middle" fill="#231815">Phased</text>
<text x="206.2" y="769.5" font-size="13.5" text-anchor="middle" fill="#231815">bam</text>
<path d="M239.4,712.3 C255,705 265,690 275,672 C285,655 292,645 305,637 C313,633 320,632 329,632" fill="none" stroke="#231815" stroke-width="1.4" stroke-dasharray="3.2 2.6"/>
<polygon points="333,632 327,635 328.2,632 327,629" fill="#231815"/>
<line x1="366.8" y1="504.6" x2="619.2" y2="504.6" stroke="#cf8ebf" stroke-width="3.8" stroke-linecap="round"/>
<circle cx="401.4" cy="504.6" r="5.5" fill="#565455"/>
<polygon points="481.5,498.2 487.9,504.6 481.5,511 475.1,504.6" fill="#9b9c9c"/>
<polygon points="513,498.2 519.4,504.6 513,511 506.6,504.6" fill="#565455"/>
<circle cx="551.3" cy="504.6" r="5.5" fill="#a0a1a1"/>
<circle cx="584.2" cy="504.6" r="5.5" fill="#565455"/>
<line x1="370.6" y1="528.5" x2="613.4" y2="528.5" stroke="#cf8ebf" stroke-width="3.8" stroke-linecap="round"/>
<circle cx="401.4" cy="528.5" r="5.5" fill="#565455"/>
<polygon points="481.5,522.1 487.9,528.5 481.5,534.9 475.1,528.5" fill="#9b9c9c"/>
<polygon points="513,522.1 519.4,528.5 513,534.9 506.6,528.5" fill="#565455"/>
<circle cx="551.3" cy="528.5" r="5.5" fill="#a0a1a1"/>
<circle cx="584.2" cy="528.5" r="5.5" fill="#565455"/>
<line x1="380.1" y1="552.4" x2="624.9" y2="552.4" stroke="#cf8ebf" stroke-width="3.8" stroke-linecap="round"/>
<circle cx="401.4" cy="552.4" r="5.5" fill="#565455"/>
<polygon points="481.5,546 487.9,552.4 481.5,558.8 475.1,552.4" fill="#9b9c9c"/>
<polygon points="513,546 519.4,552.4 513,558.8 506.6,552.4" fill="#565455"/>
<circle cx="584.2" cy="552.4" r="5.5" fill="#565455"/>
<line x1="382.1" y1="576.5" x2="615.3" y2="576.5" stroke="#cf8ebf" stroke-width="3.8" stroke-linecap="round"/>
<circle cx="401.4" cy="576.5" r="5.5" fill="#565455"/>
<polygon points="481.5,570.1 487.9,576.5 481.5,582.9 475.1,576.5" fill="#9b9c9c"/>
<polygon points="513,570.1 519.4,576.5 513,582.9 506.6,576.5" fill="#565455"/>
<circle cx="584.2" cy="576.5" r="5.5" fill="#565455"/>
<line x1="366.2" y1="600.6" x2="625.5" y2="600.6" stroke="#29a3dd" stroke-width="3.8" stroke-linecap="round"/>
<polygon points="444.6,594.2 451,600.6 444.6,607 438.2,600.6" fill="#565455"/>
<circle cx="463.3" cy="600.6" r="5.5" fill="#a0a1a1"/>
<circle cx="551.3" cy="600.6" r="5.5" fill="#a0a1a1"/>
<line x1="371.7" y1="624.5" x2="620.1" y2="624.5" stroke="#29a3dd" stroke-width="3.8" stroke-linecap="round"/>
<polygon points="444.6,618.1 451,624.5 444.6,630.9 438.2,624.5" fill="#565455"/>
<circle cx="551.3" cy="624.5" r="5.5" fill="#a0a1a1"/>
<line x1="375.6" y1="648.4" x2="623.6" y2="648.4" stroke="#29a3dd" stroke-width="3.8" stroke-linecap="round"/>
<polygon points="444.6,642 451,648.4 444.6,654.8 438.2,648.4" fill="#565455"/>
<circle cx="551.3" cy="648.4" r="5.5" fill="#a0a1a1"/>
<line x1="379.2" y1="672.5" x2="622" y2="672.5" stroke="#29a3dd" stroke-width="3.8" stroke-linecap="round"/>
<polygon points="444.6,666.1 451,672.5 444.6,678.9 438.2,672.5" fill="#565455"/>
<line x1="373.8" y1="696.2" x2="616.3" y2="696.2" stroke="#c9caca" stroke-width="3.8" stroke-linecap="round"/>
<circle cx="403.5" cy="696.2" r="5.5" fill="#565455"/>
<polygon points="444.6,689.8 451,696.2 444.6,702.6 438.2,696.2" fill="#565455"/>
<polygon points="481.5,689.8 487.9,696.2 481.5,702.6 475.1,696.2" fill="#9b9c9c"/>
<circle cx="551.3" cy="696.2" r="5.5" fill="#a0a1a1"/>
<circle cx="584.7" cy="696.2" r="5.5" fill="#565455"/>
<line x1="373.8" y1="720.5" x2="618.2" y2="720.5" stroke="#c9caca" stroke-width="3.8" stroke-linecap="round"/>
<polygon points="444.6,714.1 451,720.5 444.6,726.9 438.2,720.5" fill="#565455"/>
<circle cx="584.7" cy="720.5" r="5.5" fill="#565455"/>
<text x="390.02" y="788" font-size="19.5" fill="#231815" textLength="163.07" lengthAdjust="spacingAndGlyphs">Phased alignment</text>
<line x1="663.1" y1="612.5" x2="708.5" y2="612.5" stroke="#231815" stroke-width="2.5"/>
<polygon points="715.5,612.5 705.5,617.9 707.5,612.5 705.5,607.1" fill="#231815"/>
<rect x="871.3" y="463.85" width="32.8" height="229.7" fill="#fae3ca" stroke="#eeab60" stroke-width="3.5"/>
<line x1="869.55" y1="488.01" x2="905.85" y2="488.01" stroke="#eeab60" stroke-width="3.5"/>
<line x1="869.55" y1="513.92" x2="905.85" y2="513.92" stroke="#eeab60" stroke-width="3.5"/>
<line x1="869.55" y1="539.83" x2="905.85" y2="539.83" stroke="#eeab60" stroke-width="3.5"/>
<line x1="869.55" y1="565.74" x2="905.85" y2="565.74" stroke="#eeab60" stroke-width="3.5"/>
<line x1="869.55" y1="591.66" x2="905.85" y2="591.66" stroke="#eeab60" stroke-width="3.5"/>
<line x1="869.55" y1="617.57" x2="905.85" y2="617.57" stroke="#eeab60" stroke-width="3.5"/>
<line x1="869.55" y1="643.48" x2="905.85" y2="643.48" stroke="#eeab60" stroke-width="3.5"/>
<line x1="869.55" y1="669.39" x2="905.85" y2="669.39" stroke="#eeab60" stroke-width="3.5"/>
<rect x="871.35" y="567.54" width="32.7" height="22.31" fill="#ebb034" stroke="#e0561c" stroke-width="3.6"/>
<rect x="857.85" y="474.65" width="32.8" height="229.7" fill="#fae3ca" stroke="#eeab60" stroke-width="3.5"/>
<line x1="856.1" y1="498.81" x2="892.4" y2="498.81" stroke="#eeab60" stroke-width="3.5"/>
<line x1="856.1" y1="524.72" x2="892.4" y2="524.72" stroke="#eeab60" stroke-width="3.5"/>
<line x1="856.1" y1="550.63" x2="892.4" y2="550.63" stroke="#eeab60" stroke-width="3.5"/>
<line x1="856.1" y1="576.54" x2="892.4" y2="576.54" stroke="#eeab60" stroke-width="3.5"/>
<line x1="856.1" y1="602.46" x2="892.4" y2="602.46" stroke="#eeab60" stroke-width="3.5"/>
<line x1="856.1" y1="628.37" x2="892.4" y2="628.37" stroke="#eeab60" stroke-width="3.5"/>
<line x1="856.1" y1="654.28" x2="892.4" y2="654.28" stroke="#eeab60" stroke-width="3.5"/>
<line x1="856.1" y1="680.19" x2="892.4" y2="680.19" stroke="#eeab60" stroke-width="3.5"/>
<rect x="857.9" y="578.34" width="32.7" height="22.31" fill="#ebb034" stroke="#e0561c" stroke-width="3.6"/>
<rect x="844.4" y="485.45" width="32.8" height="229.7" fill="#fae3ca" stroke="#eeab60" stroke-width="3.5"/>
<line x1="842.65" y1="509.61" x2="878.95" y2="509.61" stroke="#eeab60" stroke-width="3.5"/>
<line x1="842.65" y1="535.52" x2="878.95" y2="535.52" stroke="#eeab60" stroke-width="3.5"/>
<line x1="842.65" y1="561.43" x2="878.95" y2="561.43" stroke="#eeab60" stroke-width="3.5"/>
<line x1="842.65" y1="587.34" x2="878.95" y2="587.34" stroke="#eeab60" stroke-width="3.5"/>
<line x1="842.65" y1="613.26" x2="878.95" y2="613.26" stroke="#eeab60" stroke-width="3.5"/>
<line x1="842.65" y1="639.17" x2="878.95" y2="639.17" stroke="#eeab60" stroke-width="3.5"/>
<line x1="842.65" y1="665.08" x2="878.95" y2="665.08" stroke="#eeab60" stroke-width="3.5"/>
<line x1="842.65" y1="690.99" x2="878.95" y2="690.99" stroke="#eeab60" stroke-width="3.5"/>
<rect x="844.45" y="589.14" width="32.7" height="22.31" fill="#ebb034" stroke="#e0561c" stroke-width="3.6"/>
<rect x="830.95" y="496.25" width="32.8" height="229.7" fill="#fae3ca" stroke="#eeab60" stroke-width="3.5"/>
<line x1="829.2" y1="520.41" x2="865.5" y2="520.41" stroke="#eeab60" stroke-width="3.5"/>
<line x1="829.2" y1="546.32" x2="865.5" y2="546.32" stroke="#eeab60" stroke-width="3.5"/>
<line x1="829.2" y1="572.23" x2="865.5" y2="572.23" stroke="#eeab60" stroke-width="3.5"/>
<line x1="829.2" y1="598.14" x2="865.5" y2="598.14" stroke="#eeab60" stroke-width="3.5"/>
<line x1="829.2" y1="624.06" x2="865.5" y2="624.06" stroke="#eeab60" stroke-width="3.5"/>
<line x1="829.2" y1="649.97" x2="865.5" y2="649.97" stroke="#eeab60" stroke-width="3.5"/>
<line x1="829.2" y1="675.88" x2="865.5" y2="675.88" stroke="#eeab60" stroke-width="3.5"/>
<line x1="829.2" y1="701.79" x2="865.5" y2="701.79" stroke="#eeab60" stroke-width="3.5"/>
<rect x="831" y="599.94" width="32.7" height="22.31" fill="#ebb034" stroke="#e0561c" stroke-width="3.6"/>
<rect x="817.5" y="507.05" width="32.8" height="229.7" fill="#fae3ca" stroke="#eeab60" stroke-width="3.5"/>
<line x1="815.75" y1="531.21" x2="852.05" y2="531.21" stroke="#eeab60" stroke-width="3.5"/>
<line x1="815.75" y1="557.12" x2="852.05" y2="557.12" stroke="#eeab60" stroke-width="3.5"/>
<line x1="815.75" y1="583.03" x2="852.05" y2="583.03" stroke="#eeab60" stroke-width="3.5"/>
<line x1="815.75" y1="608.94" x2="852.05" y2="608.94" stroke="#eeab60" stroke-width="3.5"/>
<line x1="815.75" y1="634.86" x2="852.05" y2="634.86" stroke="#eeab60" stroke-width="3.5"/>
<line x1="815.75" y1="660.77" x2="852.05" y2="660.77" stroke="#eeab60" stroke-width="3.5"/>
<line x1="815.75" y1="686.68" x2="852.05" y2="686.68" stroke="#eeab60" stroke-width="3.5"/>
<line x1="815.75" y1="712.59" x2="852.05" y2="712.59" stroke="#eeab60" stroke-width="3.5"/>
<rect x="817.55" y="610.74" width="32.7" height="22.31" fill="#ebb034" stroke="#e0561c" stroke-width="3.6"/>
<rect x="804.05" y="517.85" width="32.8" height="229.7" fill="#fae3ca" stroke="#eeab60" stroke-width="3.5"/>
<line x1="802.3" y1="542.01" x2="838.6" y2="542.01" stroke="#eeab60" stroke-width="3.5"/>
<line x1="802.3" y1="567.92" x2="838.6" y2="567.92" stroke="#eeab60" stroke-width="3.5"/>
<line x1="802.3" y1="593.83" x2="838.6" y2="593.83" stroke="#eeab60" stroke-width="3.5"/>
<line x1="802.3" y1="619.74" x2="838.6" y2="619.74" stroke="#eeab60" stroke-width="3.5"/>
<line x1="802.3" y1="645.66" x2="838.6" y2="645.66" stroke="#eeab60" stroke-width="3.5"/>
<line x1="802.3" y1="671.57" x2="838.6" y2="671.57" stroke="#eeab60" stroke-width="3.5"/>
<line x1="802.3" y1="697.48" x2="838.6" y2="697.48" stroke="#eeab60" stroke-width="3.5"/>
<line x1="802.3" y1="723.39" x2="838.6" y2="723.39" stroke="#eeab60" stroke-width="3.5"/>
<rect x="804.1" y="621.54" width="32.7" height="22.31" fill="#ebb034" stroke="#e0561c" stroke-width="3.6"/>
<line x1="777.8" y1="518.6" x2="777.8" y2="606.1" stroke="#231815" stroke-width="1.8"/>
<line x1="777.8" y1="660.7" x2="777.8" y2="750.3" stroke="#231815" stroke-width="1.8"/>
<line x1="771.8" y1="518.6" x2="783.8" y2="518.6" stroke="#231815" stroke-width="1.8"/>
<line x1="771.8" y1="750.3" x2="783.8" y2="750.3" stroke="#231815" stroke-width="1.8"/>
<text x="777.8" y="625" font-size="16.8" text-anchor="middle" fill="#231815">33</text>
<text x="777.8" y="644.3" font-size="16.8" text-anchor="middle" fill="#231815">bases</text>
<line x1="853.9" y1="756" x2="920.4" y2="700.2" stroke="#231815" stroke-width="1.8"/>
<line x1="849.9" y1="751.2" x2="857.9" y2="760.8" stroke="#231815" stroke-width="1.8"/>
<line x1="916.4" y1="695.4" x2="924.4" y2="705" stroke="#231815" stroke-width="1.8"/>
<text x="906.9" y="734.9" font-size="16.8" text-anchor="middle" fill="#231815">30</text>
<text x="906.9" y="756" font-size="17" text-anchor="middle" fill="#231815">features</text>
<line x1="956" y1="612.5" x2="1001.1" y2="612.5" stroke="#231815" stroke-width="2.5"/>
<polygon points="1008.1,612.5 998.1,617.9 1000.1,612.5 998.1,607.1" fill="#231815"/>
<rect x="1029.1" y="529.1" width="27.9" height="166.6" fill="#c9cacb"/>
<rect x="1224.4" y="529.1" width="28.9" height="166.6" fill="#c9cacb"/>
<line x1="1056.6" y1="548.8" x2="1094.5" y2="532.5" stroke="#231815" stroke-width="2.2"/>
<line x1="1056.6" y1="548.8" x2="1094.5" y2="572.2" stroke="#231815" stroke-width="2.2"/>
<line x1="1056.6" y1="591.1" x2="1094.5" y2="572.2" stroke="#231815" stroke-width="2.2"/>
<line x1="1056.6" y1="591.1" x2="1094.5" y2="611.5" stroke="#231815" stroke-width="2.2"/>
<line x1="1056.6" y1="633.2" x2="1094.5" y2="611.5" stroke="#231815" stroke-width="2.2"/>
<line x1="1056.6" y1="633.2" x2="1094.5" y2="650.9" stroke="#231815" stroke-width="2.2"/>
<line x1="1056.6" y1="675.3" x2="1094.5" y2="650.9" stroke="#231815" stroke-width="2.2"/>
<line x1="1056.6" y1="675.3" x2="1094.5" y2="690.6" stroke="#231815" stroke-width="2.2"/>
<line x1="1122.3" y1="532.5" x2="1159.6" y2="532.5" stroke="#231815" stroke-width="2.2"/>
<line x1="1122.3" y1="532.5" x2="1159.6" y2="572.2" stroke="#231815" stroke-width="2.2"/>
<line x1="1122.3" y1="572.2" x2="1159.6" y2="532.5" stroke="#231815" stroke-width="2.2"/>
<line x1="1122.3" y1="572.2" x2="1159.6" y2="572.2" stroke="#231815" stroke-width="2.2"/>
<line x1="1122.3" y1="572.2" x2="1159.6" y2="611.5" stroke="#231815" stroke-width="2.2"/>
<line x1="1122.3" y1="611.5" x2="1159.6" y2="572.2" stroke="#231815" stroke-width="2.2"/>
<line x1="1122.3" y1="611.5" x2="1159.6" y2="611.5" stroke="#231815" stroke-width="2.2"/>
<line x1="1122.3" y1="611.5" x2="1159.6" y2="650.9" stroke="#231815" stroke-width="2.2"/>
<line x1="1122.3" y1="650.9" x2="1159.6" y2="611.5" stroke="#231815" stroke-width="2.2"/>
<line x1="1122.3" y1="650.9" x2="1159.6" y2="650.9" stroke="#231815" stroke-width="2.2"/>
<line x1="1122.3" y1="650.9" x2="1159.6" y2="690.6" stroke="#231815" stroke-width="2.2"/>
<line x1="1122.3" y1="690.6" x2="1159.6" y2="650.9" stroke="#231815" stroke-width="2.2"/>
<line x1="1122.3" y1="690.6" x2="1159.6" y2="690.6" stroke="#231815" stroke-width="2.2"/>
<line x1="1187.4" y1="532.5" x2="1225.1" y2="548.8" stroke="#231815" stroke-width="2.2"/>
<line x1="1187.4" y1="532.5" x2="1225.1" y2="591.1" stroke="#231815" stroke-width="2.2"/>
<line x1="1187.4" y1="572.2" x2="1225.1" y2="548.8" stroke="#231815" stroke-width="2.2"/>
<line x1="1187.4" y1="572.2" x2="1225.1" y2="591.1" stroke="#231815" stroke-width="2.2"/>
<line x1="1187.4" y1="611.5" x2="1225.1" y2="548.8" stroke="#231815" stroke-width="2.2"/>
<line x1="1187.4" y1="611.5" x2="1225.1" y2="591.1" stroke="#231815" stroke-width="2.2"/>
<line x1="1187.4" y1="611.5" x2="1225.1" y2="633.2" stroke="#231815" stroke-width="2.2"/>
<line x1="1187.4" y1="611.5" x2="1225.1" y2="675.3" stroke="#231815" stroke-width="2.2"/>
<line x1="1187.4" y1="650.9" x2="1225.1" y2="591.1" stroke="#231815" stroke-width="2.2"/>
<line x1="1187.4" y1="650.9" x2="1225.1" y2="633.2" stroke="#231815" stroke-width="2.2"/>
<line x1="1187.4" y1="650.9" x2="1225.1" y2="675.3" stroke="#231815" stroke-width="2.2"/>
<line x1="1187.4" y1="690.6" x2="1225.1" y2="633.2" stroke="#231815" stroke-width="2.2"/>
<line x1="1187.4" y1="690.6" x2="1225.1" y2="675.3" stroke="#231815" stroke-width="2.2"/>
<ellipse cx="1042.7" cy="548.8" rx="12" ry="13.4" fill="#ededed" stroke="#231815" stroke-width="4.3"/>
<ellipse cx="1042.7" cy="591.1" rx="12" ry="13.4" fill="#ededed" stroke="#231815" stroke-width="4.3"/>
<ellipse cx="1042.7" cy="633.2" rx="12" ry="13.4" fill="#ededed" stroke="#231815" stroke-width="4.3"/>
<ellipse cx="1042.7" cy="675.3" rx="12" ry="13.4" fill="#ededed" stroke="#231815" stroke-width="4.3"/>
<ellipse cx="1108.4" cy="532.5" rx="11.9" ry="13.4" fill="#7b65ab" stroke="#231815" stroke-width="4.3"/>
<ellipse cx="1108.4" cy="572.2" rx="11.9" ry="13.4" fill="#7b65ab" stroke="#231815" stroke-width="4.3"/>
<ellipse cx="1108.4" cy="611.5" rx="11.9" ry="13.4" fill="#7b65ab" stroke="#231815" stroke-width="4.3"/>
<ellipse cx="1108.4" cy="650.9" rx="11.9" ry="13.4" fill="#7b65ab" stroke="#231815" stroke-width="4.3"/>
<ellipse cx="1108.4" cy="690.6" rx="11.9" ry="13.4" fill="#7b65ab" stroke="#231815" stroke-width="4.3"/>
<ellipse cx="1173.5" cy="532.5" rx="11.9" ry="13.4" fill="#7b65ab" stroke="#231815" stroke-width="4.3"/>
<ellipse cx="1173.5" cy="572.2" rx="11.9" ry="13.4" fill="#7b65ab" stroke="#231815" stroke-width="4.3"/>
<ellipse cx="1173.5" cy="611.5" rx="11.9" ry="13.4" fill="#7b65ab" stroke="#231815" stroke-width="4.3"/>
<ellipse cx="1173.5" cy="650.9" rx="11.9" ry="13.4" fill="#7b65ab" stroke="#231815" stroke-width="4.3"/>
<ellipse cx="1173.5" cy="690.6" rx="11.9" ry="13.4" fill="#7b65ab" stroke="#231815" stroke-width="4.3"/>
<ellipse cx="1239" cy="548.8" rx="11.9" ry="13.4" fill="#c56d96" stroke="#231815" stroke-width="4.3"/>
<ellipse cx="1239" cy="591.1" rx="11.9" ry="13.4" fill="#88bf7b" stroke="#231815" stroke-width="4.3"/>
<ellipse cx="1239" cy="633.2" rx="11.9" ry="13.4" fill="#4189bd" stroke="#231815" stroke-width="4.3"/>
<ellipse cx="1239" cy="675.3" rx="11.9" ry="13.4" fill="#dcbb58" stroke="#231815" stroke-width="4.3"/>
<line x1="1259.4" y1="576.9" x2="1283.3" y2="576.9" stroke="#231815" stroke-width="2"/>
<polygon points="1288.9,576.9 1280.9,580.7 1282.5,576.9 1280.9,573.1" fill="#231815"/>
<line x1="1259.4" y1="643" x2="1283.3" y2="643" stroke="#231815" stroke-width="2"/>
<polygon points="1288.9,643 1280.9,646.8 1282.5,643 1280.9,639.2" fill="#231815"/>
<text x="1338.1" y="569.2" font-size="18.4" text-anchor="middle" fill="#231815">21</text>
<text x="1338.5" y="592.6" font-size="18.6" text-anchor="middle" fill="#231815">Genotype</text>
<text x="1338.4" y="646.9" font-size="18.6" text-anchor="middle" fill="#231815">Zygosity</text>
<text x="1022.9" y="724.4" font-size="16.6" fill="#231815" textLength="290.3" lengthAdjust="spacingAndGlyphs">Model trained with phasing information</text>
<text x="616.51" y="789.1" font-size="19.5" fill="#231815" textLength="388.77" lengthAdjust="spacingAndGlyphs">(1) Generate tensor with additional phasing</text>
<text x="637.12" y="812.2" font-size="19.5" fill="#231815" textLength="348.87" lengthAdjust="spacingAndGlyphs">information for each candidate position</text>
<text x="1026.82" y="789.1" font-size="19.5" fill="#231815" textLength="327.47" lengthAdjust="spacingAndGlyphs">(2) Call variants using the generated</text>
<text x="1073.91" y="812.2" font-size="19.5" fill="#231815" textLength="234.17" lengthAdjust="spacingAndGlyphs">tensor and phasing model</text>
<line x1="1381.7" y1="612.1" x2="1426.7" y2="612.1" stroke="#231815" stroke-width="2.5"/>
<polygon points="1433.7,612.1 1423.7,617.5 1425.7,612.1 1423.7,606.7" fill="#231815"/>
<path d="M1481.3,540.5 L1569.9,540.5 L1569.9,676.4 L1446.3,676.4 L1446.3,575.5 Z" fill="#e9dce0" stroke="#231815" stroke-width="2.2" stroke-miterlimit="2"/>
<path d="M1446.3,575.5 L1481.3,575.5 L1481.3,540.5 Z" fill="#e9dce0" stroke="#231815" stroke-width="2.2" stroke-linejoin="bevel"/>
<text x="1492.7" y="567.4" font-size="22" font-weight="bold" fill="#231815">VCF</text>
<line x1="1459.5" y1="598.9" x2="1553" y2="598.9" stroke="#231815" stroke-width="1.9"/>
<line x1="1459.5" y1="611.5" x2="1553" y2="611.5" stroke="#231815" stroke-width="1.9"/>
<line x1="1459.5" y1="625.4" x2="1553" y2="625.4" stroke="#231815" stroke-width="1.9"/>
<line x1="1459.5" y1="639.3" x2="1553" y2="639.3" stroke="#231815" stroke-width="1.9"/>
<line x1="1459.5" y1="652.5" x2="1553" y2="652.5" stroke="#231815" stroke-width="1.9"/>
<line x1="1555" y1="592.2" x2="1584.4" y2="579" stroke="#231815" stroke-width="1.1"/>
<line x1="1556.6" y1="650.9" x2="1584.4" y2="658.5" stroke="#231815" stroke-width="1.1"/>
<rect x="1584.4" y="578" width="215.7" height="80.5" fill="#fff" stroke="#231815" stroke-width="2"/>
<text x="1590.4" y="592.9" font-size="16.2" font-weight="bold">CHROM</text>
<text x="1658.3" y="592.9" font-size="16.2" font-weight="bold">POS</text>
<text x="1712.3" y="592.9" font-size="16.2" font-weight="bold">REF</text>
<text x="1763.4" y="592.9" font-size="16.2" font-weight="bold">ALT</text>
<text x="1590.4" y="613.4" font-size="16">chr20</text>
<text x="1655.7" y="613.4" font-size="16">1234</text>
<text x="1715.3" y="613.4" font-size="16">A</text>
<text x="1767" y="613.4" font-size="16">C</text>
<text x="1590.4" y="633.3" font-size="16">chr20</text>
<text x="1655.7" y="633.3" font-size="16">3234</text>
<text x="1716.3" y="633.3" font-size="16">G</text>
<text x="1757" y="633.3" font-size="16">CTG</text>
<text x="1590.4" y="652.5" font-size="16">...</text>
<line x1="1808.4" y1="614.4" x2="1842.8" y2="614.4" stroke="#231815" stroke-width="2.5"/>
<polygon points="1849.8,614.4 1839.8,619.8 1841.8,614.4 1839.8,609" fill="#231815"/>
<rect x="1863.1" y="587.3" width="117.3" height="50.3" fill="#fff" stroke="#231815" stroke-width="2.2" rx="25.15" ry="25.15"/>
<text x="1921.7" y="606.8" font-size="16.4" text-anchor="middle" fill="#231815">Benchmarking</text>
<text x="1921.7" y="626" font-size="16.4" text-anchor="middle" fill="#231815">analysis</text>
<text x="1450.41" y="788.9" font-size="19.5" fill="#231815" textLength="333.67" lengthAdjust="spacingAndGlyphs">(3) Output the final results in VCF file</text>
<text x="13.7" y="857.2" font-size="31.5" font-weight="bold">b</text>
<text x="238.94" y="863.1" font-size="18.6" textLength="395.02" lengthAdjust="spacingAndGlyphs">Read haplotagging statistics of various samples</text>
<text x="314.14" y="882.8" font-size="18.6" textLength="244.12" lengthAdjust="spacingAndGlyphs">in PacBio and ONT platforms</text>
<rect x="119.6" y="933.4" width="51.1" height="309.7" fill="#f4b784"/>
<text x="151.35" y="939.2" font-size="17.3" text-anchor="end" transform="rotate(-90 151.35 939.2)">1,408,715</text>
<line x1="145.15" y1="1243.1" x2="145.15" y2="1248.4" stroke="#000" stroke-width="1.5"/>
<text x="145.15" y="1262.7" font-size="15.6" text-anchor="middle">Iso-Seq</text>
<text x="145.15" y="1280" font-size="15.6" text-anchor="middle">HG004</text>
<rect x="192.5" y="912.8" width="51.1" height="330.3" fill="#f4b784"/>
<text x="224.25" y="918.6" font-size="17.3" text-anchor="end" transform="rotate(-90 224.25 918.6)">1,627,205</text>
<line x1="218.05" y1="1243.1" x2="218.05" y2="1248.4" stroke="#000" stroke-width="1.5"/>
<text x="218.05" y="1262.7" font-size="15.6" text-anchor="middle">Iso-Seq</text>
<text x="218.05" y="1280" font-size="15.6" text-anchor="middle">HG005</text>
<rect x="265.4" y="943.4" width="51.1" height="299.7" fill="#dfa26b"/>
<text x="297.15" y="949.2" font-size="17.3" text-anchor="end" transform="rotate(-90 297.15 949.2)">13,935,610</text>
<line x1="290.95" y1="1243.1" x2="290.95" y2="1248.4" stroke="#000" stroke-width="1.5"/>
<text x="290.95" y="1262.7" font-size="15.6" text-anchor="middle">MAS-Seq</text>
<text x="290.95" y="1280" font-size="15.6" text-anchor="middle">HG004</text>
<rect x="338.3" y="1025.5" width="51.1" height="217.6" fill="#97b8de"/>
<text x="370.05" y="1031.3" font-size="17.3" text-anchor="end" transform="rotate(-90 370.05 1031.3)">8,867,563</text>
<line x1="363.85" y1="1243.1" x2="363.85" y2="1248.4" stroke="#000" stroke-width="1.5"/>
<text x="363.85" y="1262.7" font-size="15.6" text-anchor="middle">dRNA004</text>
<text x="363.85" y="1280" font-size="15.6" text-anchor="middle">HG004</text>
<rect x="411.2" y="1022.8" width="51.1" height="220.3" fill="#97b8de"/>
<text x="442.95" y="1028.6" font-size="17.3" text-anchor="end" transform="rotate(-90 442.95 1028.6)">10,508,251</text>
<line x1="436.75" y1="1243.1" x2="436.75" y2="1248.4" stroke="#000" stroke-width="1.5"/>
<text x="436.75" y="1262.7" font-size="15.6" text-anchor="middle">dRNA004</text>
<text x="436.75" y="1280" font-size="15.6" text-anchor="middle">HG005</text>
<rect x="484.1" y="1101.2" width="51.1" height="141.9" fill="#9ecbdc"/>
<text x="515.85" y="1107" font-size="17.3" text-anchor="end" transform="rotate(-90 515.85 1107)">5,151,531</text>
<line x1="509.65" y1="1243.1" x2="509.65" y2="1248.4" stroke="#000" stroke-width="1.5"/>
<text x="509.65" y="1262.7" font-size="15.6" text-anchor="middle">cDNA</text>
<text x="509.65" y="1280" font-size="15.6" text-anchor="middle">HG004</text>
<rect x="557" y="1052.6" width="51.1" height="190.5" fill="#9ecbdc"/>
<text x="588.75" y="1058.4" font-size="17.3" text-anchor="end" transform="rotate(-90 588.75 1058.4)">11,439,301</text>
<line x1="582.55" y1="1243.1" x2="582.55" y2="1248.4" stroke="#000" stroke-width="1.5"/>
<text x="582.55" y="1262.7" font-size="15.6" text-anchor="middle">cDNA</text>
<text x="582.55" y="1280" font-size="15.6" text-anchor="middle">HG005</text>
<rect x="629.9" y="1130.1" width="51.1" height="113" fill="#b7dcda"/>
<text x="661.65" y="1135.9" font-size="17.3" text-anchor="end" transform="rotate(-90 661.65 1135.9)">647,490</text>
<line x1="655.45" y1="1243.1" x2="655.45" y2="1248.4" stroke="#000" stroke-width="1.5"/>
<text x="655.45" y="1262.7" font-size="15.6" text-anchor="middle">dRNA002</text>
<text x="655.45" y="1280" font-size="15.6" text-anchor="middle">HG004</text>
<rect x="702.8" y="1110" width="51.1" height="133.1" fill="#b7dcda"/>
<text x="734.55" y="1115.8" font-size="17.3" text-anchor="end" transform="rotate(-90 734.55 1115.8)">662,365</text>
<line x1="728.35" y1="1243.1" x2="728.35" y2="1248.4" stroke="#000" stroke-width="1.5"/>
<text x="728.35" y="1262.7" font-size="15.6" text-anchor="middle">dRNA002</text>
<text x="728.35" y="1280" font-size="15.6" text-anchor="middle">HG005</text>
<rect x="87.5" y="896.8" width="698.6" height="346.3" fill="none" stroke="#000" stroke-width="1.6"/>
<line x1="81" y1="1243.1" x2="87.5" y2="1243.1" stroke="#000" stroke-width="1.5"/>
<text x="78.7" y="1248.5" font-size="15.3" text-anchor="end">0%</text>
<line x1="81" y1="1201.3" x2="87.5" y2="1201.3" stroke="#000" stroke-width="1.5"/>
<text x="78.7" y="1206.7" font-size="15.3" text-anchor="end">5%</text>
<line x1="81" y1="1159.5" x2="87.5" y2="1159.5" stroke="#000" stroke-width="1.5"/>
<text x="78.7" y="1164.9" font-size="15.3" text-anchor="end">10%</text>
<line x1="81" y1="1117.7" x2="87.5" y2="1117.7" stroke="#000" stroke-width="1.5"/>
<text x="78.7" y="1123.1" font-size="15.3" text-anchor="end">15%</text>
<line x1="81" y1="1075.9" x2="87.5" y2="1075.9" stroke="#000" stroke-width="1.5"/>
<text x="78.7" y="1081.3" font-size="15.3" text-anchor="end">20%</text>
<line x1="81" y1="1034.1" x2="87.5" y2="1034.1" stroke="#000" stroke-width="1.5"/>
<text x="78.7" y="1039.5" font-size="15.3" text-anchor="end">25%</text>
<line x1="81" y1="992.3" x2="87.5" y2="992.3" stroke="#000" stroke-width="1.5"/>
<text x="78.7" y="997.7" font-size="15.3" text-anchor="end">30%</text>
<line x1="81" y1="950.5" x2="87.5" y2="950.5" stroke="#000" stroke-width="1.5"/>
<text x="78.7" y="955.9" font-size="15.3" text-anchor="end">35%</text>
<line x1="81" y1="908.7" x2="87.5" y2="908.7" stroke="#000" stroke-width="1.5"/>
<text x="78.7" y="914.1" font-size="15.3" text-anchor="end">40%</text>
<text x="31" y="1070.6" font-size="18.6" text-anchor="middle" transform="rotate(-90 31 1070.6)">Haplotagged PCT</text>
<text x="436.8" y="1304.6" font-size="18.4" text-anchor="middle">Sample/platform</text>
<text x="14" y="1312.7" font-size="31.5" font-weight="bold">c</text>
<text x="201.84" y="1342.2" font-size="18.8" textLength="512.63" lengthAdjust="spacingAndGlyphs">PacBio haplotagging distribution by contig (MAS-Seq HG004)</text>
<rect x="148.8" y="1355.2" width="9" height="142.8" fill="#465965"/>
<rect x="159.1" y="1456.4" width="9" height="41.6" fill="#afbdc5"/>
<rect x="177.33" y="1400.2" width="9" height="97.8" fill="#465965"/>
<rect x="187.63" y="1469.9" width="9" height="28.1" fill="#afbdc5"/>
<rect x="205.86" y="1433" width="9" height="65" fill="#465965"/>
<rect x="216.16" y="1477.1" width="9" height="20.9" fill="#afbdc5"/>
<rect x="234.39" y="1455" width="9" height="43" fill="#465965"/>
<rect x="244.69" y="1484.9" width="9" height="13.1" fill="#afbdc5"/>
<rect x="262.92" y="1413" width="9" height="85" fill="#465965"/>
<rect x="273.22" y="1450.3" width="9" height="47.7" fill="#afbdc5"/>
<rect x="291.45" y="1395" width="9" height="103" fill="#465965"/>
<rect x="301.75" y="1455.5" width="9" height="42.5" fill="#afbdc5"/>
<rect x="319.98" y="1364.6" width="9" height="133.4" fill="#465965"/>
<rect x="330.28" y="1406.2" width="9" height="91.8" fill="#afbdc5"/>
<rect x="348.51" y="1458" width="9" height="40" fill="#465965"/>
<rect x="358.81" y="1487.4" width="9" height="10.6" fill="#afbdc5"/>
<rect x="377.04" y="1457" width="9" height="41" fill="#465965"/>
<rect x="387.34" y="1485.2" width="9" height="12.8" fill="#afbdc5"/>
<rect x="405.57" y="1445.8" width="9" height="52.2" fill="#465965"/>
<rect x="415.87" y="1479.5" width="9" height="18.5" fill="#afbdc5"/>
<rect x="434.1" y="1403.5" width="9" height="94.5" fill="#465965"/>
<rect x="444.4" y="1469.9" width="9" height="28.1" fill="#afbdc5"/>
<rect x="462.63" y="1386.2" width="9" height="111.8" fill="#465965"/>
<rect x="472.93" y="1465.8" width="9" height="32.2" fill="#afbdc5"/>
<rect x="491.16" y="1475.9" width="9" height="22.1" fill="#465965"/>
<rect x="501.46" y="1490.8" width="9" height="7.2" fill="#afbdc5"/>
<rect x="519.69" y="1441.5" width="9" height="56.5" fill="#465965"/>
<rect x="529.99" y="1481.1" width="9" height="16.9" fill="#afbdc5"/>
<rect x="548.22" y="1428.1" width="9" height="69.9" fill="#465965"/>
<rect x="558.52" y="1487" width="9" height="11" fill="#afbdc5"/>
<rect x="576.75" y="1438.2" width="9" height="59.8" fill="#465965"/>
<rect x="587.05" y="1482" width="9" height="16" fill="#afbdc5"/>
<rect x="605.28" y="1409.6" width="9" height="88.4" fill="#465965"/>
<rect x="615.58" y="1467.8" width="9" height="30.2" fill="#afbdc5"/>
<rect x="633.81" y="1481.6" width="9" height="16.4" fill="#465965"/>
<rect x="644.11" y="1493" width="9" height="5" fill="#afbdc5"/>
<rect x="662.34" y="1422.4" width="9" height="75.6" fill="#465965"/>
<rect x="672.64" y="1469.4" width="9" height="28.6" fill="#afbdc5"/>
<rect x="690.87" y="1469.2" width="9" height="28.8" fill="#465965"/>
<rect x="701.17" y="1487.9" width="9" height="10.1" fill="#afbdc5"/>
<rect x="719.4" y="1484.5" width="9" height="13.5" fill="#465965"/>
<rect x="729.7" y="1493" width="9" height="5" fill="#afbdc5"/>
<rect x="747.93" y="1455" width="9" height="43" fill="#465965"/>
<rect x="758.23" y="1487.2" width="9" height="10.8" fill="#afbdc5"/>
<line x1="117.8" y1="1348" x2="798.2" y2="1348" stroke="#808080" stroke-width="1.3"/>
<line x1="798.2" y1="1348" x2="798.2" y2="1498" stroke="#808080" stroke-width="1.3"/>
<line x1="117.8" y1="1348" x2="117.8" y2="1498.6" stroke="#3a3a3a" stroke-width="1.3"/>
<line x1="117.8" y1="1498" x2="798.2" y2="1498" stroke="#3a3a3a" stroke-width="1.3"/>
<line x1="114" y1="1421.4" x2="117.8" y2="1421.4" stroke="#3a3a3a" stroke-width="1.2"/>
<line x1="114" y1="1498" x2="117.8" y2="1498" stroke="#3a3a3a" stroke-width="1.2"/>
<text x="110.5" y="1428.1" font-size="18.8" text-anchor="end">2,000,000</text>
<text x="110.5" y="1504.7" font-size="18.8" text-anchor="end">0</text>
<text x="21.2" y="1422.7" font-size="18.6" text-anchor="middle" transform="rotate(-90 21.2 1422.7)">Count</text>
<text x="336.74" y="1368.7" font-size="18.7" textLength="223.72" lengthAdjust="spacingAndGlyphs">Haplotagged PCT=35.83%</text>
<rect x="148.8" y="1519.3" width="9" height="149.9" fill="#465965"/>
<rect x="159.1" y="1519.3" width="9" height="149.9" fill="#afbdc5"/>
<line x1="158.5" y1="1669.2" x2="158.5" y2="1672.6" stroke="#3a3a3a" stroke-width="1.2"/>
<text x="158.5" y="1688.9" font-size="18.8" text-anchor="middle">1</text>
<rect x="177.33" y="1519.3" width="9" height="149.9" fill="#465965"/>
<rect x="187.63" y="1519.3" width="9" height="149.9" fill="#afbdc5"/>
<line x1="187.03" y1="1669.2" x2="187.03" y2="1672.6" stroke="#3a3a3a" stroke-width="1.2"/>
<text x="187.03" y="1688.9" font-size="18.8" text-anchor="middle">2</text>
<rect x="205.86" y="1519.3" width="9" height="149.9" fill="#465965"/>
<rect x="216.16" y="1519.3" width="9" height="149.9" fill="#afbdc5"/>
<line x1="215.56" y1="1669.2" x2="215.56" y2="1672.6" stroke="#3a3a3a" stroke-width="1.2"/>
<text x="215.56" y="1688.9" font-size="18.8" text-anchor="middle">3</text>
<rect x="234.39" y="1519.3" width="9" height="149.9" fill="#465965"/>
<rect x="244.69" y="1519.3" width="9" height="149.9" fill="#afbdc5"/>
<line x1="244.09" y1="1669.2" x2="244.09" y2="1672.6" stroke="#3a3a3a" stroke-width="1.2"/>
<text x="244.09" y="1688.9" font-size="18.8" text-anchor="middle">4</text>
<rect x="262.92" y="1519.3" width="9" height="149.9" fill="#465965"/>
<rect x="273.22" y="1519.3" width="9" height="149.9" fill="#afbdc5"/>
<line x1="272.62" y1="1669.2" x2="272.62" y2="1672.6" stroke="#3a3a3a" stroke-width="1.2"/>
<text x="272.62" y="1688.9" font-size="18.8" text-anchor="middle">5</text>
<rect x="291.45" y="1519.3" width="9" height="149.9" fill="#465965"/>
<rect x="301.75" y="1519.3" width="9" height="149.9" fill="#afbdc5"/>
<line x1="301.15" y1="1669.2" x2="301.15" y2="1672.6" stroke="#3a3a3a" stroke-width="1.2"/>
<text x="301.15" y="1688.9" font-size="18.8" text-anchor="middle">6</text>
<rect x="319.98" y="1519.3" width="9" height="149.9" fill="#465965"/>
<rect x="330.28" y="1519.3" width="9" height="149.9" fill="#afbdc5"/>
<line x1="329.68" y1="1669.2" x2="329.68" y2="1672.6" stroke="#3a3a3a" stroke-width="1.2"/>
<text x="329.68" y="1688.9" font-size="18.8" text-anchor="middle">7</text>
<rect x="348.51" y="1519.3" width="9" height="149.9" fill="#465965"/>
<rect x="358.81" y="1519.3" width="9" height="149.9" fill="#afbdc5"/>
<line x1="358.21" y1="1669.2" x2="358.21" y2="1672.6" stroke="#3a3a3a" stroke-width="1.2"/>
<text x="358.21" y="1688.9" font-size="18.8" text-anchor="middle">8</text>
<rect x="377.04" y="1519.3" width="9" height="149.9" fill="#465965"/>
<rect x="387.34" y="1519.3" width="9" height="149.9" fill="#afbdc5"/>
<line x1="386.74" y1="1669.2" x2="386.74" y2="1672.6" stroke="#3a3a3a" stroke-width="1.2"/>
<text x="386.74" y="1688.9" font-size="18.8" text-anchor="middle">9</text>
<rect x="405.57" y="1519.3" width="9" height="149.9" fill="#465965"/>
<rect x="415.87" y="1519.3" width="9" height="149.9" fill="#afbdc5"/>
<line x1="415.27" y1="1669.2" x2="415.27" y2="1672.6" stroke="#3a3a3a" stroke-width="1.2"/>
<text x="415.27" y="1688.9" font-size="18.8" text-anchor="middle">10</text>
<rect x="434.1" y="1519.3" width="9" height="149.9" fill="#465965"/>
<rect x="444.4" y="1519.3" width="9" height="149.9" fill="#afbdc5"/>
<line x1="443.8" y1="1669.2" x2="443.8" y2="1672.6" stroke="#3a3a3a" stroke-width="1.2"/>
<text x="443.8" y="1688.9" font-size="18.8" text-anchor="middle">11</text>
<rect x="462.63" y="1519.3" width="9" height="149.9" fill="#465965"/>
<rect x="472.93" y="1519.3" width="9" height="149.9" fill="#afbdc5"/>
<line x1="472.33" y1="1669.2" x2="472.33" y2="1672.6" stroke="#3a3a3a" stroke-width="1.2"/>
<text x="472.33" y="1688.9" font-size="18.8" text-anchor="middle">12</text>
<rect x="491.16" y="1519.3" width="9" height="149.9" fill="#465965"/>
<rect x="501.46" y="1550.8" width="9" height="118.4" fill="#afbdc5"/>
<line x1="500.86" y1="1669.2" x2="500.86" y2="1672.6" stroke="#3a3a3a" stroke-width="1.2"/>
<text x="500.86" y="1688.9" font-size="18.8" text-anchor="middle">13</text>
<rect x="519.69" y="1519.3" width="9" height="149.9" fill="#465965"/>
<rect x="529.99" y="1519.3" width="9" height="149.9" fill="#afbdc5"/>
<line x1="529.39" y1="1669.2" x2="529.39" y2="1672.6" stroke="#3a3a3a" stroke-width="1.2"/>
<text x="529.39" y="1688.9" font-size="18.8" text-anchor="middle">14</text>
<rect x="548.22" y="1519.3" width="9" height="149.9" fill="#465965"/>
<rect x="558.52" y="1519.3" width="9" height="149.9" fill="#afbdc5"/>
<line x1="557.92" y1="1669.2" x2="557.92" y2="1672.6" stroke="#3a3a3a" stroke-width="1.2"/>
<text x="557.92" y="1688.9" font-size="18.8" text-anchor="middle">15</text>
<rect x="576.75" y="1519.3" width="9" height="149.9" fill="#465965"/>
<rect x="587.05" y="1519.3" width="9" height="149.9" fill="#afbdc5"/>
<line x1="586.45" y1="1669.2" x2="586.45" y2="1672.6" stroke="#3a3a3a" stroke-width="1.2"/>
<text x="586.45" y="1688.9" font-size="18.8" text-anchor="middle">16</text>
<rect x="605.28" y="1519.3" width="9" height="149.9" fill="#465965"/>
<rect x="615.58" y="1519.3" width="9" height="149.9" fill="#afbdc5"/>
<line x1="614.98" y1="1669.2" x2="614.98" y2="1672.6" stroke="#3a3a3a" stroke-width="1.2"/>
<text x="614.98" y="1688.9" font-size="18.8" text-anchor="middle">17</text>
<rect x="633.81" y="1519.3" width="9" height="149.9" fill="#465965"/>
<rect x="644.11" y="1584.1" width="9" height="85.1" fill="#afbdc5"/>
<line x1="643.51" y1="1669.2" x2="643.51" y2="1672.6" stroke="#3a3a3a" stroke-width="1.2"/>
<text x="643.51" y="1688.9" font-size="18.8" text-anchor="middle">18</text>
<rect x="662.34" y="1519.3" width="9" height="149.9" fill="#465965"/>
<rect x="672.64" y="1519.3" width="9" height="149.9" fill="#afbdc5"/>
<line x1="672.04" y1="1669.2" x2="672.04" y2="1672.6" stroke="#3a3a3a" stroke-width="1.2"/>
<text x="672.04" y="1688.9" font-size="18.8" text-anchor="middle">19</text>
<rect x="690.87" y="1519.3" width="9" height="149.9" fill="#465965"/>
<rect x="701.17" y="1519.3" width="9" height="149.9" fill="#afbdc5"/>
<line x1="700.57" y1="1669.2" x2="700.57" y2="1672.6" stroke="#3a3a3a" stroke-width="1.2"/>
<text x="700.57" y="1688.9" font-size="18.8" text-anchor="middle">20</text>
<rect x="719.4" y="1519.3" width="9" height="149.9" fill="#465965"/>
<rect x="729.7" y="1587.2" width="9" height="82" fill="#afbdc5"/>
<line x1="729.1" y1="1669.2" x2="729.1" y2="1672.6" stroke="#3a3a3a" stroke-width="1.2"/>
<text x="729.1" y="1688.9" font-size="18.8" text-anchor="middle">21</text>
<rect x="747.93" y="1519.3" width="9" height="149.9" fill="#465965"/>
<rect x="758.23" y="1519.3" width="9" height="149.9" fill="#afbdc5"/>
<line x1="757.63" y1="1669.2" x2="757.63" y2="1672.6" stroke="#3a3a3a" stroke-width="1.2"/>
<text x="757.63" y="1688.9" font-size="18.8" text-anchor="middle">22</text>
<line x1="117.8" y1="1519.3" x2="798.2" y2="1519.3" stroke="#3a3a3a" stroke-width="1.3"/>
<line x1="798.2" y1="1519.3" x2="798.2" y2="1669.2" stroke="#808080" stroke-width="1.3"/>
<line x1="117.8" y1="1519.3" x2="117.8" y2="1669.8" stroke="#3a3a3a" stroke-width="1.3"/>
<line x1="117.8" y1="1669.2" x2="798.2" y2="1669.2" stroke="#3a3a3a" stroke-width="1.3"/>
<line x1="114" y1="1544.7" x2="117.8" y2="1544.7" stroke="#3a3a3a" stroke-width="1.2"/>
<text x="110.5" y="1551.4" font-size="18.8" text-anchor="end">200,000</text>
<line x1="114" y1="1607" x2="117.8" y2="1607" stroke="#3a3a3a" stroke-width="1.2"/>
<text x="110.5" y="1613.7" font-size="18.8" text-anchor="end">100,000</text>
<line x1="114" y1="1669.2" x2="117.8" y2="1669.2" stroke="#3a3a3a" stroke-width="1.2"/>
<text x="110.5" y="1675.9" font-size="18.8" text-anchor="end">0</text>
<text x="36.2" y="1594.7" font-size="18.6" text-anchor="middle" transform="rotate(-90 36.2 1594.7)">Count</text>
<text x="458" y="1709.6" font-size="18.6" text-anchor="middle">Chromosome</text>
<text x="210.74" y="1728.1" font-size="18.8" textLength="493.63" lengthAdjust="spacingAndGlyphs">ONT haplotagging distribution by contig (dRNA004 HG004)</text>
<rect x="148.8" y="1751.7" width="9" height="131.5" fill="#465965"/>
<rect x="159.1" y="1851.1" width="9" height="32.1" fill="#afbdc5"/>
<rect x="177.33" y="1776.9" width="9" height="106.3" fill="#465965"/>
<rect x="187.63" y="1856.9" width="9" height="26.3" fill="#afbdc5"/>
<rect x="205.86" y="1801.9" width="9" height="81.3" fill="#465965"/>
<rect x="216.16" y="1865.9" width="9" height="17.3" fill="#afbdc5"/>
<rect x="234.39" y="1839.6" width="9" height="43.6" fill="#465965"/>
<rect x="244.69" y="1875.2" width="9" height="8" fill="#afbdc5"/>
<rect x="262.92" y="1799.2" width="9" height="84" fill="#465965"/>
<rect x="273.22" y="1858.3" width="9" height="24.9" fill="#afbdc5"/>
<rect x="291.45" y="1757.1" width="9" height="126.1" fill="#465965"/>
<rect x="301.75" y="1846.1" width="9" height="37.1" fill="#afbdc5"/>
<rect x="319.98" y="1799.4" width="9" height="83.8" fill="#465965"/>
<rect x="330.28" y="1842.8" width="9" height="40.4" fill="#afbdc5"/>
<rect x="348.51" y="1836.5" width="9" height="46.7" fill="#465965"/>
<rect x="358.81" y="1870.2" width="9" height="13" fill="#afbdc5"/>
<rect x="377.04" y="1824.1" width="9" height="59.1" fill="#465965"/>
<rect x="387.34" y="1870" width="9" height="13.2" fill="#afbdc5"/>
<rect x="405.57" y="1837.2" width="9" height="46" fill="#465965"/>
<rect x="415.87" y="1871.6" width="9" height="11.6" fill="#afbdc5"/>
<rect x="434.1" y="1767" width="9" height="116.2" fill="#465965"/>
<rect x="444.4" y="1858.1" width="9" height="25.1" fill="#afbdc5"/>
<rect x="462.63" y="1774.9" width="9" height="108.3" fill="#465965"/>
<rect x="472.93" y="1848.2" width="9" height="35" fill="#afbdc5"/>
<rect x="491.16" y="1859.9" width="9" height="23.3" fill="#465965"/>
<rect x="501.46" y="1878.3" width="9" height="4.9" fill="#afbdc5"/>
<rect x="519.69" y="1830" width="9" height="53.2" fill="#465965"/>
<rect x="529.99" y="1866.8" width="9" height="16.4" fill="#afbdc5"/>
<rect x="548.22" y="1815.1" width="9" height="68.1" fill="#465965"/>
<rect x="558.52" y="1877.2" width="9" height="6" fill="#afbdc5"/>
<rect x="576.75" y="1814.2" width="9" height="69" fill="#465965"/>
<rect x="587.05" y="1869.8" width="9" height="13.4" fill="#afbdc5"/>
<rect x="605.28" y="1764.5" width="9" height="118.7" fill="#465965"/>
<rect x="615.58" y="1854.7" width="9" height="28.5" fill="#afbdc5"/>
<rect x="633.81" y="1865.9" width="9" height="17.3" fill="#465965"/>
<rect x="644.11" y="1879.2" width="9" height="4" fill="#afbdc5"/>
<rect x="662.34" y="1740.5" width="9" height="142.7" fill="#465965"/>
<rect x="672.64" y="1844.6" width="9" height="38.6" fill="#afbdc5"/>
<rect x="690.87" y="1849.1" width="9" height="34.1" fill="#465965"/>
<rect x="701.17" y="1875.4" width="9" height="7.8" fill="#afbdc5"/>
<rect x="719.4" y="1872" width="9" height="11.2" fill="#465965"/>
<rect x="729.7" y="1879.2" width="9" height="4" fill="#afbdc5"/>
<rect x="747.93" y="1839.8" width="9" height="43.4" fill="#465965"/>
<rect x="758.23" y="1873.6" width="9" height="9.6" fill="#afbdc5"/>
<line x1="117.8" y1="1733.3" x2="798.2" y2="1733.3" stroke="#808080" stroke-width="1.3"/>
<line x1="798.2" y1="1733.3" x2="798.2" y2="1883.2" stroke="#808080" stroke-width="1.3"/>
<line x1="117.8" y1="1733.3" x2="117.8" y2="1883.8" stroke="#3a3a3a" stroke-width="1.3"/>
<line x1="117.8" y1="1883.2" x2="798.2" y2="1883.2" stroke="#3a3a3a" stroke-width="1.3"/>
<line x1="114" y1="1788.4" x2="117.8" y2="1788.4" stroke="#3a3a3a" stroke-width="1.2"/>
<line x1="114" y1="1883.2" x2="117.8" y2="1883.2" stroke="#3a3a3a" stroke-width="1.2"/>
<text x="110.5" y="1795.1" font-size="18.8" text-anchor="end">2,000,000</text>
<text x="110.5" y="1889.9" font-size="18.8" text-anchor="end">0</text>
<text x="21.2" y="1808.5" font-size="18.6" text-anchor="middle" transform="rotate(-90 21.2 1808.5)">Count</text>
<text x="336.74" y="1754" font-size="18.7" textLength="223.72" lengthAdjust="spacingAndGlyphs">Haplotagged PCT=26.00%</text>
<rect x="148.8" y="1904.6" width="9" height="150" fill="#465965"/>
<rect x="159.1" y="1904.6" width="9" height="150" fill="#afbdc5"/>
<line x1="158.5" y1="2054.6" x2="158.5" y2="2058" stroke="#3a3a3a" stroke-width="1.2"/>
<text x="158.5" y="2074.3" font-size="18.8" text-anchor="middle">1</text>
<rect x="177.33" y="1904.6" width="9" height="150" fill="#465965"/>
<rect x="187.63" y="1904.6" width="9" height="150" fill="#afbdc5"/>
<line x1="187.03" y1="2054.6" x2="187.03" y2="2058" stroke="#3a3a3a" stroke-width="1.2"/>
<text x="187.03" y="2074.3" font-size="18.8" text-anchor="middle">2</text>
<rect x="205.86" y="1904.6" width="9" height="150" fill="#465965"/>
<rect x="216.16" y="1904.6" width="9" height="150" fill="#afbdc5"/>
<line x1="215.56" y1="2054.6" x2="215.56" y2="2058" stroke="#3a3a3a" stroke-width="1.2"/>
<text x="215.56" y="2074.3" font-size="18.8" text-anchor="middle">3</text>
<rect x="234.39" y="1904.6" width="9" height="150" fill="#465965"/>
<rect x="244.69" y="1949.1" width="9" height="105.5" fill="#afbdc5"/>
<line x1="244.09" y1="2054.6" x2="244.09" y2="2058" stroke="#3a3a3a" stroke-width="1.2"/>
<text x="244.09" y="2074.3" font-size="18.8" text-anchor="middle">4</text>
<rect x="262.92" y="1904.6" width="9" height="150" fill="#465965"/>
<rect x="273.22" y="1904.6" width="9" height="150" fill="#afbdc5"/>
<line x1="272.62" y1="2054.6" x2="272.62" y2="2058" stroke="#3a3a3a" stroke-width="1.2"/>
<text x="272.62" y="2074.3" font-size="18.8" text-anchor="middle">5</text>
<rect x="291.45" y="1904.6" width="9" height="150" fill="#465965"/>
<rect x="301.75" y="1904.6" width="9" height="150" fill="#afbdc5"/>
<line x1="301.15" y1="2054.6" x2="301.15" y2="2058" stroke="#3a3a3a" stroke-width="1.2"/>
<text x="301.15" y="2074.3" font-size="18.8" text-anchor="middle">6</text>
<rect x="319.98" y="1904.6" width="9" height="150" fill="#465965"/>
<rect x="330.28" y="1904.6" width="9" height="150" fill="#afbdc5"/>
<line x1="329.68" y1="2054.6" x2="329.68" y2="2058" stroke="#3a3a3a" stroke-width="1.2"/>
<text x="329.68" y="2074.3" font-size="18.8" text-anchor="middle">7</text>
<rect x="348.51" y="1904.6" width="9" height="150" fill="#465965"/>
<rect x="358.81" y="1904.6" width="9" height="150" fill="#afbdc5"/>
<line x1="358.21" y1="2054.6" x2="358.21" y2="2058" stroke="#3a3a3a" stroke-width="1.2"/>
<text x="358.21" y="2074.3" font-size="18.8" text-anchor="middle">8</text>
<rect x="377.04" y="1904.6" width="9" height="150" fill="#465965"/>
<rect x="387.34" y="1904.6" width="9" height="150" fill="#afbdc5"/>
<line x1="386.74" y1="2054.6" x2="386.74" y2="2058" stroke="#3a3a3a" stroke-width="1.2"/>
<text x="386.74" y="2074.3" font-size="18.8" text-anchor="middle">9</text>
<rect x="405.57" y="1904.6" width="9" height="150" fill="#465965"/>
<rect x="415.87" y="1904.6" width="9" height="150" fill="#afbdc5"/>
<line x1="415.27" y1="2054.6" x2="415.27" y2="2058" stroke="#3a3a3a" stroke-width="1.2"/>
<text x="415.27" y="2074.3" font-size="18.8" text-anchor="middle">10</text>
<rect x="434.1" y="1904.6" width="9" height="150" fill="#465965"/>
<rect x="444.4" y="1904.6" width="9" height="150" fill="#afbdc5"/>
<line x1="443.8" y1="2054.6" x2="443.8" y2="2058" stroke="#3a3a3a" stroke-width="1.2"/>
<text x="443.8" y="2074.3" font-size="18.8" text-anchor="middle">11</text>
<rect x="462.63" y="1904.6" width="9" height="150" fill="#465965"/>
<rect x="472.93" y="1904.6" width="9" height="150" fill="#afbdc5"/>
<line x1="472.33" y1="2054.6" x2="472.33" y2="2058" stroke="#3a3a3a" stroke-width="1.2"/>
<text x="472.33" y="2074.3" font-size="18.8" text-anchor="middle">12</text>
<rect x="491.16" y="1904.6" width="9" height="150" fill="#465965"/>
<rect x="501.46" y="1991.2" width="9" height="63.4" fill="#afbdc5"/>
<line x1="500.86" y1="2054.6" x2="500.86" y2="2058" stroke="#3a3a3a" stroke-width="1.2"/>
<text x="500.86" y="2074.3" font-size="18.8" text-anchor="middle">13</text>
<rect x="519.69" y="1904.6" width="9" height="150" fill="#465965"/>
<rect x="529.99" y="1904.6" width="9" height="150" fill="#afbdc5"/>
<line x1="529.39" y1="2054.6" x2="529.39" y2="2058" stroke="#3a3a3a" stroke-width="1.2"/>
<text x="529.39" y="2074.3" font-size="18.8" text-anchor="middle">14</text>
<rect x="548.22" y="1904.6" width="9" height="150" fill="#465965"/>
<rect x="558.52" y="1974.8" width="9" height="79.8" fill="#afbdc5"/>
<line x1="557.92" y1="2054.6" x2="557.92" y2="2058" stroke="#3a3a3a" stroke-width="1.2"/>
<text x="557.92" y="2074.3" font-size="18.8" text-anchor="middle">15</text>
<rect x="576.75" y="1904.6" width="9" height="150" fill="#465965"/>
<rect x="587.05" y="1904.6" width="9" height="150" fill="#afbdc5"/>
<line x1="586.45" y1="2054.6" x2="586.45" y2="2058" stroke="#3a3a3a" stroke-width="1.2"/>
<text x="586.45" y="2074.3" font-size="18.8" text-anchor="middle">16</text>
<rect x="605.28" y="1904.6" width="9" height="150" fill="#465965"/>
<rect x="615.58" y="1904.6" width="9" height="150" fill="#afbdc5"/>
<line x1="614.98" y1="2054.6" x2="614.98" y2="2058" stroke="#3a3a3a" stroke-width="1.2"/>
<text x="614.98" y="2074.3" font-size="18.8" text-anchor="middle">17</text>
<rect x="633.81" y="1904.6" width="9" height="150" fill="#465965"/>
<rect x="644.11" y="1999.7" width="9" height="54.9" fill="#afbdc5"/>
<line x1="643.51" y1="2054.6" x2="643.51" y2="2058" stroke="#3a3a3a" stroke-width="1.2"/>
<text x="643.51" y="2074.3" font-size="18.8" text-anchor="middle">18</text>
<rect x="662.34" y="1904.6" width="9" height="150" fill="#465965"/>
<rect x="672.64" y="1904.6" width="9" height="150" fill="#afbdc5"/>
<line x1="672.04" y1="2054.6" x2="672.04" y2="2058" stroke="#3a3a3a" stroke-width="1.2"/>
<text x="672.04" y="2074.3" font-size="18.8" text-anchor="middle">19</text>
<rect x="690.87" y="1904.6" width="9" height="150" fill="#465965"/>
<rect x="701.17" y="1949.1" width="9" height="105.5" fill="#afbdc5"/>
<line x1="700.57" y1="2054.6" x2="700.57" y2="2058" stroke="#3a3a3a" stroke-width="1.2"/>
<text x="700.57" y="2074.3" font-size="18.8" text-anchor="middle">20</text>
<rect x="719.4" y="1904.6" width="9" height="150" fill="#465965"/>
<rect x="729.7" y="1999" width="9" height="55.6" fill="#afbdc5"/>
<line x1="729.1" y1="2054.6" x2="729.1" y2="2058" stroke="#3a3a3a" stroke-width="1.2"/>
<text x="729.1" y="2074.3" font-size="18.8" text-anchor="middle">21</text>
<rect x="747.93" y="1904.6" width="9" height="150" fill="#465965"/>
<rect x="758.23" y="1924.4" width="9" height="130.2" fill="#afbdc5"/>
<line x1="757.63" y1="2054.6" x2="757.63" y2="2058" stroke="#3a3a3a" stroke-width="1.2"/>
<text x="757.63" y="2074.3" font-size="18.8" text-anchor="middle">22</text>
<line x1="117.8" y1="1904.6" x2="798.2" y2="1904.6" stroke="#3a3a3a" stroke-width="1.3"/>
<line x1="798.2" y1="1904.6" x2="798.2" y2="2054.6" stroke="#808080" stroke-width="1.3"/>
<line x1="117.8" y1="1904.6" x2="117.8" y2="2055.2" stroke="#3a3a3a" stroke-width="1.3"/>
<line x1="117.8" y1="2054.6" x2="798.2" y2="2054.6" stroke="#3a3a3a" stroke-width="1.3"/>
<line x1="114" y1="1929.3" x2="117.8" y2="1929.3" stroke="#3a3a3a" stroke-width="1.2"/>
<text x="110.5" y="1936" font-size="18.8" text-anchor="end">200,000</text>
<line x1="114" y1="1992.3" x2="117.8" y2="1992.3" stroke="#3a3a3a" stroke-width="1.2"/>
<text x="110.5" y="1999" font-size="18.8" text-anchor="end">100,000</text>
<line x1="114" y1="2054.6" x2="117.8" y2="2054.6" stroke="#3a3a3a" stroke-width="1.2"/>
<text x="110.5" y="2061.3" font-size="18.8" text-anchor="end">0</text>
<text x="36.2" y="1979.4" font-size="18.6" text-anchor="middle" transform="rotate(-90 36.2 1979.4)">Count</text>
<text x="458" y="2095" font-size="18.6" text-anchor="middle">Chromosome</text>
<rect x="261.9" y="2111" width="33.3" height="11.7" fill="#465965"/>
<text x="309.24" y="2122.5" font-size="18.6" textLength="110.62" lengthAdjust="spacingAndGlyphs">Total alignment</text>
<rect x="455.8" y="2111" width="32.8" height="11.7" fill="#afbdc5"/>
<text x="501.94" y="2122.5" font-size="18.6" textLength="170.42" lengthAdjust="spacingAndGlyphs">Haplotagged alignment</text>
<text x="847.8" y="856.8" font-size="31.5" font-weight="bold">d</text>
<rect x="934.1" y="1065.47" width="52.4" height="44.68" fill="#e8dbe1"/>
<rect x="934.1" y="1110.15" width="52.4" height="187.25" fill="#dbc5cf"/>
<text x="958.6" y="1092.2" font-size="13.6" text-anchor="middle" fill="#505050">21,670</text>
<text x="958.6" y="1199.9" font-size="13.6" text-anchor="middle" fill="#505050">90,810</text>
<line x1="960.3" y1="1297.4" x2="960.3" y2="1302.9" stroke="#3a3a3a" stroke-width="1.3"/>
<text x="958.8" y="1318.5" font-size="16.7" text-anchor="middle">Iso-seq</text>
<text x="958.3" y="1338.3" font-size="16.7" text-anchor="middle">(BCM)</text>
<rect x="1012.2" y="1130.56" width="52.4" height="40.86" fill="#e8dbe1"/>
<rect x="1012.2" y="1171.41" width="52.4" height="125.99" fill="#dbc5cf"/>
<text x="1038.4" y="1152.8" font-size="13.6" text-anchor="middle" fill="#505050">19,814</text>
<text x="1038.4" y="1232.8" font-size="13.6" text-anchor="middle" fill="#505050">61,099</text>
<line x1="1038.4" y1="1297.4" x2="1038.4" y2="1302.9" stroke="#3a3a3a" stroke-width="1.3"/>
<text x="1036.9" y="1318.5" font-size="16.7" text-anchor="middle">Iso-seq</text>
<text x="1038.4" y="1338.3" font-size="16.7" text-anchor="middle">(Google)</text>
<rect x="1090.5" y="879.69" width="52.4" height="91.68" fill="#e8dbe1"/>
<rect x="1090.5" y="971.38" width="52.4" height="326.02" fill="#dbc5cf"/>
<text x="1116.7" y="926.3" font-size="13.6" text-anchor="middle" fill="#505050">44,463</text>
<text x="1116.7" y="1137.6" font-size="13.6" text-anchor="middle" fill="#505050">158,110</text>
<line x1="1116.7" y1="1297.4" x2="1116.7" y2="1302.9" stroke="#3a3a3a" stroke-width="1.3"/>
<text x="1116.7" y="1318.5" font-size="16.7" text-anchor="middle">MAS-Seq</text>
<rect x="1168.3" y="1148.3" width="52.4" height="58.02" fill="#b5dbea"/>
<rect x="1168.3" y="1206.32" width="52.4" height="91.08" fill="#85c2dc"/>
<text x="1193.3" y="1178.7" font-size="13.6" text-anchor="middle" fill="#505050">28,136</text>
<text x="1193.3" y="1260" font-size="13.6" text-anchor="middle" fill="#505050">44,171</text>
<line x1="1194.5" y1="1297.4" x2="1194.5" y2="1302.9" stroke="#3a3a3a" stroke-width="1.3"/>
<text x="1189.5" y="1318.5" font-size="16.7" text-anchor="middle">ONT</text>
<text x="1191.5" y="1338.3" font-size="16.7" text-anchor="middle">cDNA</text>
<rect x="1246.4" y="1237.83" width="52.4" height="14.57" fill="#b5dbea"/>
<rect x="1246.4" y="1252.4" width="52.4" height="45" fill="#85c2dc"/>
<text x="1273.3" y="1249.6" font-size="13.6" text-anchor="middle" fill="#505050">7,066</text>
<text x="1273.2" y="1276.7" font-size="13.6" text-anchor="middle" fill="#505050">21,825</text>
<line x1="1272.6" y1="1297.4" x2="1272.6" y2="1302.9" stroke="#3a3a3a" stroke-width="1.3"/>
<text x="1267.6" y="1318.5" font-size="16.7" text-anchor="middle">ONT</text>
<text x="1272.6" y="1338.3" font-size="16.7" text-anchor="middle">dRNA002</text>
<rect x="1324.6" y="1129.12" width="52.4" height="35.22" fill="#b5dbea"/>
<rect x="1324.6" y="1164.34" width="52.4" height="133.06" fill="#85c2dc"/>
<text x="1348.6" y="1147.5" font-size="13.6" text-anchor="middle" fill="#505050">17,080</text>
<text x="1348.6" y="1223.7" font-size="13.6" text-anchor="middle" fill="#505050">64,531</text>
<line x1="1350.8" y1="1297.4" x2="1350.8" y2="1302.9" stroke="#3a3a3a" stroke-width="1.3"/>
<text x="1345.8" y="1318.5" font-size="16.7" text-anchor="middle">ONT</text>
<text x="1350.8" y="1338.3" font-size="16.7" text-anchor="middle">dRNA004</text>
<rect x="908.2" y="864.6" width="494.3" height="432.8" fill="none" stroke="#3a3a3a" stroke-width="1.5"/>
<line x1="898.5" y1="1297.4" x2="908.2" y2="1297.4" stroke="#3a3a3a" stroke-width="1.3"/>
<text x="893.5" y="1303.3" font-size="16.6" text-anchor="end">0</text>
<line x1="903.4" y1="1276.78" x2="908.2" y2="1276.78" stroke="#3a3a3a" stroke-width="1.2"/>
<line x1="903.4" y1="1256.16" x2="908.2" y2="1256.16" stroke="#3a3a3a" stroke-width="1.2"/>
<line x1="903.4" y1="1235.54" x2="908.2" y2="1235.54" stroke="#3a3a3a" stroke-width="1.2"/>
<line x1="903.4" y1="1214.92" x2="908.2" y2="1214.92" stroke="#3a3a3a" stroke-width="1.2"/>
<line x1="898.5" y1="1194.3" x2="908.2" y2="1194.3" stroke="#3a3a3a" stroke-width="1.3"/>
<text x="893.5" y="1200.2" font-size="16.6" text-anchor="end">50,000</text>
<line x1="903.4" y1="1173.68" x2="908.2" y2="1173.68" stroke="#3a3a3a" stroke-width="1.2"/>
<line x1="903.4" y1="1153.06" x2="908.2" y2="1153.06" stroke="#3a3a3a" stroke-width="1.2"/>
<line x1="903.4" y1="1132.44" x2="908.2" y2="1132.44" stroke="#3a3a3a" stroke-width="1.2"/>
<line x1="903.4" y1="1111.82" x2="908.2" y2="1111.82" stroke="#3a3a3a" stroke-width="1.2"/>
<line x1="898.5" y1="1091.2" x2="908.2" y2="1091.2" stroke="#3a3a3a" stroke-width="1.3"/>
<text x="893.5" y="1097.1" font-size="16.6" text-anchor="end">100,000</text>
<line x1="903.4" y1="1070.58" x2="908.2" y2="1070.58" stroke="#3a3a3a" stroke-width="1.2"/>
<line x1="903.4" y1="1049.96" x2="908.2" y2="1049.96" stroke="#3a3a3a" stroke-width="1.2"/>
<line x1="903.4" y1="1029.34" x2="908.2" y2="1029.34" stroke="#3a3a3a" stroke-width="1.2"/>
<line x1="903.4" y1="1008.72" x2="908.2" y2="1008.72" stroke="#3a3a3a" stroke-width="1.2"/>
<line x1="898.5" y1="988.1" x2="908.2" y2="988.1" stroke="#3a3a3a" stroke-width="1.3"/>
<text x="893.5" y="994" font-size="16.6" text-anchor="end">150,000</text>
<line x1="903.4" y1="967.48" x2="908.2" y2="967.48" stroke="#3a3a3a" stroke-width="1.2"/>
<line x1="903.4" y1="946.86" x2="908.2" y2="946.86" stroke="#3a3a3a" stroke-width="1.2"/>
<line x1="903.4" y1="926.24" x2="908.2" y2="926.24" stroke="#3a3a3a" stroke-width="1.2"/>
<line x1="903.4" y1="905.62" x2="908.2" y2="905.62" stroke="#3a3a3a" stroke-width="1.2"/>
<line x1="898.5" y1="885" x2="908.2" y2="885" stroke="#3a3a3a" stroke-width="1.3"/>
<text x="893.5" y="890.9" font-size="16.6" text-anchor="end">200,000</text>
<line x1="903.4" y1="864.38" x2="908.2" y2="864.38" stroke="#3a3a3a" stroke-width="1.2"/>
<text x="1121.4" y="1369.3" font-size="17.2" text-anchor="middle">HG004</text>
<text x="827" y="1071.2" font-size="16.9" text-anchor="middle" transform="rotate(-90 827 1071.2)">Variant count</text>
<rect x="1519.2" y="972.39" width="51.8" height="62.99" fill="#e8dbe1"/>
<rect x="1519.2" y="1035.38" width="51.8" height="262.02" fill="#dbc5cf"/>
<text x="1544.3" y="1002.9" font-size="13.6" text-anchor="middle" fill="#505050">30,546</text>
<text x="1544.3" y="1126.4" font-size="13.6" text-anchor="middle" fill="#505050">127,073</text>
<line x1="1545.1" y1="1297.4" x2="1545.1" y2="1302.9" stroke="#3a3a3a" stroke-width="1.3"/>
<text x="1543.6" y="1318.5" font-size="16.7" text-anchor="middle">Iso-seq</text>
<text x="1543.1" y="1338.3" font-size="16.7" text-anchor="middle">(BCM)</text>
<rect x="1597.1" y="1127.54" width="51.8" height="46.35" fill="#e8dbe1"/>
<rect x="1597.1" y="1173.89" width="51.8" height="123.51" fill="#dbc5cf"/>
<text x="1622.2" y="1158.1" font-size="13.6" text-anchor="middle" fill="#505050">22,479</text>
<text x="1622.2" y="1223.2" font-size="13.6" text-anchor="middle" fill="#505050">59,897</text>
<line x1="1623" y1="1297.4" x2="1623" y2="1302.9" stroke="#3a3a3a" stroke-width="1.3"/>
<text x="1621.5" y="1318.5" font-size="16.7" text-anchor="middle">Iso-seq</text>
<text x="1623" y="1338.3" font-size="16.7" text-anchor="middle">(Google)</text>
<rect x="1675.2" y="1131.03" width="51.8" height="60.99" fill="#b5dbea"/>
<rect x="1675.2" y="1192.02" width="51.8" height="105.38" fill="#85c2dc"/>
<text x="1700.5" y="1163.9" font-size="13.6" text-anchor="middle" fill="#505050">29,578</text>
<text x="1700.5" y="1246.6" font-size="13.6" text-anchor="middle" fill="#505050">51,107</text>
<line x1="1701.1" y1="1297.4" x2="1701.1" y2="1302.9" stroke="#3a3a3a" stroke-width="1.3"/>
<text x="1696.1" y="1318.5" font-size="16.7" text-anchor="middle">ONT</text>
<text x="1698.1" y="1338.3" font-size="16.7" text-anchor="middle">cDNA</text>
<rect x="1753" y="1238.62" width="51.8" height="14.29" fill="#b5dbea"/>
<rect x="1753" y="1252.91" width="51.8" height="44.49" fill="#85c2dc"/>
<text x="1780.6" y="1250.5" font-size="13.6" text-anchor="middle" fill="#505050">6,932</text>
<text x="1780.6" y="1278.3" font-size="13.6" text-anchor="middle" fill="#505050">21,575</text>
<line x1="1778.9" y1="1297.4" x2="1778.9" y2="1302.9" stroke="#3a3a3a" stroke-width="1.3"/>
<text x="1773.9" y="1318.5" font-size="16.7" text-anchor="middle">ONT</text>
<text x="1778.9" y="1338.3" font-size="16.7" text-anchor="middle">dRNA002</text>
<rect x="1831.3" y="1119.43" width="51.8" height="39.23" fill="#b5dbea"/>
<rect x="1831.3" y="1158.66" width="51.8" height="138.74" fill="#85c2dc"/>
<text x="1856" y="1138.9" font-size="13.6" text-anchor="middle" fill="#505050">19,026</text>
<text x="1856" y="1222.2" font-size="13.6" text-anchor="middle" fill="#505050">67,282</text>
<line x1="1857.2" y1="1297.4" x2="1857.2" y2="1302.9" stroke="#3a3a3a" stroke-width="1.3"/>
<text x="1852.2" y="1318.5" font-size="16.7" text-anchor="middle">ONT</text>
<text x="1857.2" y="1338.3" font-size="16.7" text-anchor="middle">dRNA004</text>
<rect x="1493" y="864.6" width="494.5" height="432.8" fill="none" stroke="#3a3a3a" stroke-width="1.5"/>
<line x1="1483.3" y1="1297.4" x2="1493" y2="1297.4" stroke="#3a3a3a" stroke-width="1.3"/>
<text x="1478.6" y="1303.3" font-size="16.6" text-anchor="end">0</text>
<line x1="1488.2" y1="1276.78" x2="1493" y2="1276.78" stroke="#3a3a3a" stroke-width="1.2"/>
<line x1="1488.2" y1="1256.16" x2="1493" y2="1256.16" stroke="#3a3a3a" stroke-width="1.2"/>
<line x1="1488.2" y1="1235.54" x2="1493" y2="1235.54" stroke="#3a3a3a" stroke-width="1.2"/>
<line x1="1488.2" y1="1214.92" x2="1493" y2="1214.92" stroke="#3a3a3a" stroke-width="1.2"/>
<line x1="1483.3" y1="1194.3" x2="1493" y2="1194.3" stroke="#3a3a3a" stroke-width="1.3"/>
<text x="1478.6" y="1200.2" font-size="16.6" text-anchor="end">50,000</text>
<line x1="1488.2" y1="1173.68" x2="1493" y2="1173.68" stroke="#3a3a3a" stroke-width="1.2"/>
<line x1="1488.2" y1="1153.06" x2="1493" y2="1153.06" stroke="#3a3a3a" stroke-width="1.2"/>
<line x1="1488.2" y1="1132.44" x2="1493" y2="1132.44" stroke="#3a3a3a" stroke-width="1.2"/>
<line x1="1488.2" y1="1111.82" x2="1493" y2="1111.82" stroke="#3a3a3a" stroke-width="1.2"/>
<line x1="1483.3" y1="1091.2" x2="1493" y2="1091.2" stroke="#3a3a3a" stroke-width="1.3"/>
<text x="1478.6" y="1097.1" font-size="16.6" text-anchor="end">100,000</text>
<line x1="1488.2" y1="1070.58" x2="1493" y2="1070.58" stroke="#3a3a3a" stroke-width="1.2"/>
<line x1="1488.2" y1="1049.96" x2="1493" y2="1049.96" stroke="#3a3a3a" stroke-width="1.2"/>
<line x1="1488.2" y1="1029.34" x2="1493" y2="1029.34" stroke="#3a3a3a" stroke-width="1.2"/>
<line x1="1488.2" y1="1008.72" x2="1493" y2="1008.72" stroke="#3a3a3a" stroke-width="1.2"/>
<line x1="1483.3" y1="988.1" x2="1493" y2="988.1" stroke="#3a3a3a" stroke-width="1.3"/>
<text x="1478.6" y="994" font-size="16.6" text-anchor="end">150,000</text>
<line x1="1488.2" y1="967.48" x2="1493" y2="967.48" stroke="#3a3a3a" stroke-width="1.2"/>
<line x1="1488.2" y1="946.86" x2="1493" y2="946.86" stroke="#3a3a3a" stroke-width="1.2"/>
<line x1="1488.2" y1="926.24" x2="1493" y2="926.24" stroke="#3a3a3a" stroke-width="1.2"/>
<line x1="1488.2" y1="905.62" x2="1493" y2="905.62" stroke="#3a3a3a" stroke-width="1.2"/>
<line x1="1483.3" y1="885" x2="1493" y2="885" stroke="#3a3a3a" stroke-width="1.3"/>
<text x="1478.6" y="890.9" font-size="16.6" text-anchor="end">200,000</text>
<line x1="1488.2" y1="864.38" x2="1493" y2="864.38" stroke="#3a3a3a" stroke-width="1.2"/>
<text x="1714.9" y="1369.3" font-size="17.2" text-anchor="middle">HG005</text>
<rect x="1066.5" y="1389.1" width="36.2" height="16.4" fill="#a7a3a1" rx="1.5"/>
<text x="1112.69" y="1401.3" font-size="16.9" textLength="301.91" lengthAdjust="spacingAndGlyphs">Not phasable heterozygous variant (0/1)</text>
<rect x="1480.2" y="1389" width="35.6" height="16.2" fill="#000" rx="1.5"/>
<text x="1526.19" y="1401.2" font-size="16.9" textLength="306.61" lengthAdjust="spacingAndGlyphs">Phased heterozygous variant (0|1 or 1|0)</text>
<text x="847.5" y="1481.8" font-size="31.5" font-weight="bold">e</text>
<text x="906.39" y="1505.1" font-size="20.4" textLength="472.42" lengthAdjust="spacingAndGlyphs">SNP performance comparison w/o phasing (HG004)</text>
<line x1="895.1" y1="1529.4" x2="895.1" y2="1996.6" stroke="#3a3a3a" stroke-width="1.5"/>
<line x1="895.1" y1="1996.6" x2="1362.1" y2="1996.6" stroke="#3a3a3a" stroke-width="1.5"/>
<line x1="886.7" y1="1996.6" x2="895.1" y2="1996.6" stroke="#3a3a3a" stroke-width="1.4"/>
<text x="881.9" y="2002.5" font-size="16.5" text-anchor="end">0.88</text>
<line x1="890.9" y1="1967.43" x2="895.1" y2="1967.43" stroke="#3a3a3a" stroke-width="1.2"/>
<line x1="890.9" y1="1938.26" x2="895.1" y2="1938.26" stroke="#3a3a3a" stroke-width="1.2"/>
<line x1="890.9" y1="1909.09" x2="895.1" y2="1909.09" stroke="#3a3a3a" stroke-width="1.2"/>
<line x1="886.7" y1="1879.92" x2="895.1" y2="1879.92" stroke="#3a3a3a" stroke-width="1.4"/>
<text x="881.9" y="1885.83" font-size="16.5" text-anchor="end">0.90</text>
<line x1="890.9" y1="1850.76" x2="895.1" y2="1850.76" stroke="#3a3a3a" stroke-width="1.2"/>
<line x1="890.9" y1="1821.59" x2="895.1" y2="1821.59" stroke="#3a3a3a" stroke-width="1.2"/>
<line x1="890.9" y1="1792.42" x2="895.1" y2="1792.42" stroke="#3a3a3a" stroke-width="1.2"/>
<line x1="886.7" y1="1763.25" x2="895.1" y2="1763.25" stroke="#3a3a3a" stroke-width="1.4"/>
<text x="881.9" y="1769.15" font-size="16.5" text-anchor="end">0.92</text>
<line x1="890.9" y1="1734.08" x2="895.1" y2="1734.08" stroke="#3a3a3a" stroke-width="1.2"/>
<line x1="890.9" y1="1704.91" x2="895.1" y2="1704.91" stroke="#3a3a3a" stroke-width="1.2"/>
<line x1="890.9" y1="1675.74" x2="895.1" y2="1675.74" stroke="#3a3a3a" stroke-width="1.2"/>
<line x1="886.7" y1="1646.58" x2="895.1" y2="1646.58" stroke="#3a3a3a" stroke-width="1.4"/>
<text x="881.9" y="1652.48" font-size="16.5" text-anchor="end">0.94</text>
<line x1="890.9" y1="1617.41" x2="895.1" y2="1617.41" stroke="#3a3a3a" stroke-width="1.2"/>
<line x1="890.9" y1="1588.24" x2="895.1" y2="1588.24" stroke="#3a3a3a" stroke-width="1.2"/>
<line x1="890.9" y1="1559.07" x2="895.1" y2="1559.07" stroke="#3a3a3a" stroke-width="1.2"/>
<line x1="886.7" y1="1529.9" x2="895.1" y2="1529.9" stroke="#3a3a3a" stroke-width="1.4"/>
<text x="881.9" y="1535.8" font-size="16.5" text-anchor="end">0.96</text>
<line x1="895.1" y1="1996.6" x2="895.1" y2="2003.8" stroke="#3a3a3a" stroke-width="1.4"/>
<text x="896.6" y="2021" font-size="16.5" text-anchor="middle">0.92</text>
<line x1="934.02" y1="1996.6" x2="934.02" y2="2000.5" stroke="#3a3a3a" stroke-width="1.2"/>
<line x1="972.93" y1="1996.6" x2="972.93" y2="2000.5" stroke="#3a3a3a" stroke-width="1.2"/>
<line x1="1011.85" y1="1996.6" x2="1011.85" y2="2000.5" stroke="#3a3a3a" stroke-width="1.2"/>
<line x1="1050.77" y1="1996.6" x2="1050.77" y2="2003.8" stroke="#3a3a3a" stroke-width="1.4"/>
<text x="1052.27" y="2021" font-size="16.5" text-anchor="middle">0.94</text>
<line x1="1089.68" y1="1996.6" x2="1089.68" y2="2000.5" stroke="#3a3a3a" stroke-width="1.2"/>
<line x1="1128.6" y1="1996.6" x2="1128.6" y2="2000.5" stroke="#3a3a3a" stroke-width="1.2"/>
<line x1="1167.52" y1="1996.6" x2="1167.52" y2="2000.5" stroke="#3a3a3a" stroke-width="1.2"/>
<line x1="1206.43" y1="1996.6" x2="1206.43" y2="2003.8" stroke="#3a3a3a" stroke-width="1.4"/>
<text x="1207.93" y="2021" font-size="16.5" text-anchor="middle">0.96</text>
<line x1="1245.35" y1="1996.6" x2="1245.35" y2="2000.5" stroke="#3a3a3a" stroke-width="1.2"/>
<line x1="1284.27" y1="1996.6" x2="1284.27" y2="2000.5" stroke="#3a3a3a" stroke-width="1.2"/>
<line x1="1323.18" y1="1996.6" x2="1323.18" y2="2000.5" stroke="#3a3a3a" stroke-width="1.2"/>
<line x1="1362.1" y1="1996.6" x2="1362.1" y2="2003.8" stroke="#3a3a3a" stroke-width="1.4"/>
<text x="1363.6" y="2021" font-size="16.5" text-anchor="middle">0.98</text>
<text x="1129.3" y="2042.9" font-size="16.6" text-anchor="middle">Precision</text>
<text x="841.1" y="1762.9" font-size="16.8" text-anchor="middle" transform="rotate(-90 841.1 1762.9)">Recall</text>
<defs><linearGradient id="g1" gradientUnits="userSpaceOnUse" x1="1224.7" y1="1655.3" x2="1263.08" y2="1610.68"><stop offset="0" stop-color="#0c0e84"/><stop offset="1" stop-color="#b3242a"/></linearGradient></defs>
<line x1="1224.7" y1="1655.3" x2="1263.08" y2="1610.68" stroke="url(#g1)" stroke-width="2.4" stroke-dasharray="8.5 5"/>
<path d="M1263.67,1618.58 L1263.08,1610.68 L1255.18,1611.27" fill="none" stroke="#b3242a" stroke-width="2.2" stroke-linejoin="miter"/>
<defs><linearGradient id="g2" gradientUnits="userSpaceOnUse" x1="962.58" y1="1917.93" x2="1048.82" y2="1753.7"><stop offset="0" stop-color="#0c0e84"/><stop offset="1" stop-color="#b3242a"/></linearGradient></defs>
<line x1="962.58" y1="1917.93" x2="1048.82" y2="1753.7" stroke="url(#g2)" stroke-width="2.4" stroke-dasharray="8.5 5"/>
<path d="M1051.17,1761.26 L1048.82,1753.7 L1041.26,1756.05" fill="none" stroke="#b3242a" stroke-width="2.2" stroke-linejoin="miter"/>
<defs><linearGradient id="g3" gradientUnits="userSpaceOnUse" x1="1063.58" y1="1893.22" x2="1181.73" y2="1796.69"><stop offset="0" stop-color="#0c0e84"/><stop offset="1" stop-color="#b3242a"/></linearGradient></defs>
<line x1="1063.58" y1="1893.22" x2="1181.73" y2="1796.69" stroke="url(#g3)" stroke-width="2.4" stroke-dasharray="8.5 5"/>
<path d="M1180.94,1804.57 L1181.73,1796.69 L1173.85,1795.9" fill="none" stroke="#b3242a" stroke-width="2.2" stroke-linejoin="miter"/>
<defs><linearGradient id="g4" gradientUnits="userSpaceOnUse" x1="1149.03" y1="1778.84" x2="1187.88" y2="1687.32"><stop offset="0" stop-color="#0c0e84"/><stop offset="1" stop-color="#b3242a"/></linearGradient></defs>
<line x1="1149.03" y1="1778.84" x2="1187.88" y2="1687.32" stroke="url(#g4)" stroke-width="2.4" stroke-dasharray="8.5 5"/>
<path d="M1190.84,1694.67 L1187.88,1687.32 L1180.54,1690.29" fill="none" stroke="#b3242a" stroke-width="2.2" stroke-linejoin="miter"/>
<circle cx="1218.5" cy="1662.5" r="7.9" fill="#0c0e84"/>
<circle cx="1269.6" cy="1603.1" r="7.9" fill="#b3242a"/>
<polygon points="958.4,1916.3 966.5,1932.7 950.3,1932.7" fill="#0c0e84"/>
<polygon points="1053.7,1734.8 1061.8,1751.2 1045.6,1751.2" fill="#b3242a"/>
<polygon points="1057,1890.7 1064.9,1898.6 1057,1906.5 1049.1,1898.6" fill="#0c0e84"/>
<polygon points="1188.7,1783.1 1196.6,1791 1188.7,1798.9 1180.8,1791" fill="#b3242a"/>
<polygon points="1145.9,1777.9 1147.85,1783.51 1153.79,1783.64 1149.06,1787.23 1150.78,1792.91 1145.9,1789.52 1141.02,1792.91 1142.74,1787.23 1138.01,1783.64 1143.95,1783.51" fill="#0c0e84"/>
<polygon points="1191.2,1671.2 1193.15,1676.81 1199.09,1676.94 1194.36,1680.53 1196.08,1686.21 1191.2,1682.82 1186.32,1686.21 1188.04,1680.53 1183.31,1676.94 1189.25,1676.81" fill="#b3242a"/>
<text x="1506.19" y="1505.1" font-size="20.4" textLength="471.62" lengthAdjust="spacingAndGlyphs">SNP performance comparison w/o phasing (HG005)</text>
<line x1="1495.2" y1="1529.4" x2="1495.2" y2="1996.6" stroke="#3a3a3a" stroke-width="1.5"/>
<line x1="1495.2" y1="1996.6" x2="1962.2" y2="1996.6" stroke="#3a3a3a" stroke-width="1.5"/>
<line x1="1486.8" y1="1996.6" x2="1495.2" y2="1996.6" stroke="#3a3a3a" stroke-width="1.4"/>
<text x="1482" y="2002.5" font-size="16.5" text-anchor="end">0.88</text>
<line x1="1491" y1="1967.43" x2="1495.2" y2="1967.43" stroke="#3a3a3a" stroke-width="1.2"/>
<line x1="1491" y1="1938.26" x2="1495.2" y2="1938.26" stroke="#3a3a3a" stroke-width="1.2"/>
<line x1="1491" y1="1909.09" x2="1495.2" y2="1909.09" stroke="#3a3a3a" stroke-width="1.2"/>
<line x1="1486.8" y1="1879.92" x2="1495.2" y2="1879.92" stroke="#3a3a3a" stroke-width="1.4"/>
<text x="1482" y="1885.83" font-size="16.5" text-anchor="end">0.90</text>
<line x1="1491" y1="1850.76" x2="1495.2" y2="1850.76" stroke="#3a3a3a" stroke-width="1.2"/>
<line x1="1491" y1="1821.59" x2="1495.2" y2="1821.59" stroke="#3a3a3a" stroke-width="1.2"/>
<line x1="1491" y1="1792.42" x2="1495.2" y2="1792.42" stroke="#3a3a3a" stroke-width="1.2"/>
<line x1="1486.8" y1="1763.25" x2="1495.2" y2="1763.25" stroke="#3a3a3a" stroke-width="1.4"/>
<text x="1482" y="1769.15" font-size="16.5" text-anchor="end">0.92</text>
<line x1="1491" y1="1734.08" x2="1495.2" y2="1734.08" stroke="#3a3a3a" stroke-width="1.2"/>
<line x1="1491" y1="1704.91" x2="1495.2" y2="1704.91" stroke="#3a3a3a" stroke-width="1.2"/>
<line x1="1491" y1="1675.74" x2="1495.2" y2="1675.74" stroke="#3a3a3a" stroke-width="1.2"/>
<line x1="1486.8" y1="1646.58" x2="1495.2" y2="1646.58" stroke="#3a3a3a" stroke-width="1.4"/>
<text x="1482" y="1652.48" font-size="16.5" text-anchor="end">0.94</text>
<line x1="1491" y1="1617.41" x2="1495.2" y2="1617.41" stroke="#3a3a3a" stroke-width="1.2"/>
<line x1="1491" y1="1588.24" x2="1495.2" y2="1588.24" stroke="#3a3a3a" stroke-width="1.2"/>
<line x1="1491" y1="1559.07" x2="1495.2" y2="1559.07" stroke="#3a3a3a" stroke-width="1.2"/>
<line x1="1486.8" y1="1529.9" x2="1495.2" y2="1529.9" stroke="#3a3a3a" stroke-width="1.4"/>
<text x="1482" y="1535.8" font-size="16.5" text-anchor="end">0.96</text>
<line x1="1495.2" y1="1996.6" x2="1495.2" y2="2003.8" stroke="#3a3a3a" stroke-width="1.4"/>
<text x="1496.7" y="2021" font-size="16.5" text-anchor="middle">0.92</text>
<line x1="1534.12" y1="1996.6" x2="1534.12" y2="2000.5" stroke="#3a3a3a" stroke-width="1.2"/>
<line x1="1573.03" y1="1996.6" x2="1573.03" y2="2000.5" stroke="#3a3a3a" stroke-width="1.2"/>
<line x1="1611.95" y1="1996.6" x2="1611.95" y2="2000.5" stroke="#3a3a3a" stroke-width="1.2"/>
<line x1="1650.87" y1="1996.6" x2="1650.87" y2="2003.8" stroke="#3a3a3a" stroke-width="1.4"/>
<text x="1652.37" y="2021" font-size="16.5" text-anchor="middle">0.94</text>
<line x1="1689.78" y1="1996.6" x2="1689.78" y2="2000.5" stroke="#3a3a3a" stroke-width="1.2"/>
<line x1="1728.7" y1="1996.6" x2="1728.7" y2="2000.5" stroke="#3a3a3a" stroke-width="1.2"/>
<line x1="1767.62" y1="1996.6" x2="1767.62" y2="2000.5" stroke="#3a3a3a" stroke-width="1.2"/>
<line x1="1806.53" y1="1996.6" x2="1806.53" y2="2003.8" stroke="#3a3a3a" stroke-width="1.4"/>
<text x="1808.03" y="2021" font-size="16.5" text-anchor="middle">0.96</text>
<line x1="1845.45" y1="1996.6" x2="1845.45" y2="2000.5" stroke="#3a3a3a" stroke-width="1.2"/>
<line x1="1884.37" y1="1996.6" x2="1884.37" y2="2000.5" stroke="#3a3a3a" stroke-width="1.2"/>
<line x1="1923.28" y1="1996.6" x2="1923.28" y2="2000.5" stroke="#3a3a3a" stroke-width="1.2"/>
<line x1="1962.2" y1="1996.6" x2="1962.2" y2="2003.8" stroke="#3a3a3a" stroke-width="1.4"/>
<text x="1963.7" y="2021" font-size="16.5" text-anchor="middle">0.98</text>
<text x="1729.4" y="2042.9" font-size="16.6" text-anchor="middle">Precision</text>
<text x="1441" y="1762.9" font-size="16.8" text-anchor="middle" transform="rotate(-90 1441 1762.9)">Recall</text>
<defs><linearGradient id="g5" gradientUnits="userSpaceOnUse" x1="1848.82" y1="1607.73" x2="1888.2" y2="1549.48"><stop offset="0" stop-color="#0c0e84"/><stop offset="1" stop-color="#b3242a"/></linearGradient></defs>
<line x1="1848.82" y1="1607.73" x2="1888.2" y2="1549.48" stroke="url(#g5)" stroke-width="2.4" stroke-dasharray="8.5 5"/>
<path d="M1889.7,1557.26 L1888.2,1549.48 L1880.42,1550.99" fill="none" stroke="#b3242a" stroke-width="2.2" stroke-linejoin="miter"/>
<defs><linearGradient id="g6" gradientUnits="userSpaceOnUse" x1="1589.4" y1="1854.05" x2="1663.57" y2="1721.56"><stop offset="0" stop-color="#0c0e84"/><stop offset="1" stop-color="#b3242a"/></linearGradient></defs>
<line x1="1589.4" y1="1854.05" x2="1663.57" y2="1721.56" stroke="url(#g6)" stroke-width="2.4" stroke-dasharray="8.5 5"/>
<path d="M1665.72,1729.18 L1663.57,1721.56 L1655.95,1723.71" fill="none" stroke="#b3242a" stroke-width="2.2" stroke-linejoin="miter"/>
<defs><linearGradient id="g7" gradientUnits="userSpaceOnUse" x1="1677.25" y1="1868.94" x2="1790.08" y2="1765"><stop offset="0" stop-color="#0c0e84"/><stop offset="1" stop-color="#b3242a"/></linearGradient></defs>
<line x1="1677.25" y1="1868.94" x2="1790.08" y2="1765" stroke="url(#g7)" stroke-width="2.4" stroke-dasharray="8.5 5"/>
<path d="M1789.76,1772.91 L1790.08,1765 L1782.17,1764.67" fill="none" stroke="#b3242a" stroke-width="2.2" stroke-linejoin="miter"/>
<circle cx="1843.5" cy="1615.6" r="7.9" fill="#0c0e84"/>
<circle cx="1893.8" cy="1541.2" r="7.9" fill="#b3242a"/>
<polygon points="1585,1852.3 1593.1,1868.7 1576.9,1868.7" fill="#0c0e84"/>
<polygon points="1668.7,1702.8 1676.8,1719.2 1660.6,1719.2" fill="#b3242a"/>
<polygon points="1671,1866.8 1678.9,1874.7 1671,1882.6 1663.1,1874.7" fill="#0c0e84"/>
<polygon points="1796.7,1751 1804.6,1758.9 1796.7,1766.8 1788.8,1758.9" fill="#b3242a"/>
<circle cx="911.5" cy="2065.6" r="8.29" fill="#b3242a"/>
<circle cx="911.5" cy="2092.2" r="8.29" fill="#0c0e84"/>
<text x="934.3" y="2070.6" font-size="16.9">Iso-Seq(BCM) with phasing</text>
<text x="934.3" y="2097.4" font-size="16.9">Iso-Seq(BCM) without phasing</text>
<polygon points="1201.5,2055.52 1210.01,2072.74 1192.99,2072.74" fill="#b3242a"/>
<polygon points="1201.5,2082.12 1210.01,2099.34 1192.99,2099.34" fill="#0c0e84"/>
<text x="1224" y="2070.6" font-size="16.9">ONT dRNA004 with phasing</text>
<text x="1224" y="2097.4" font-size="16.9">ONT dRNA004 without phasing</text>
<polygon points="1491.6,2057.3 1499.89,2065.6 1491.6,2073.89 1483.3,2065.6" fill="#b3242a"/>
<polygon points="1491.6,2083.9 1499.89,2092.2 1491.6,2100.49 1483.3,2092.2" fill="#0c0e84"/>
<text x="1514" y="2070.6" font-size="16.9">Iso-Seq(Google) with phasing</text>
<text x="1514" y="2097.4" font-size="16.9">Iso-Seq(Google) without phasing</text>
<polygon points="1781.6,2056.88 1783.65,2062.78 1789.89,2062.91 1784.92,2066.68 1786.72,2072.65 1781.6,2069.09 1776.48,2072.65 1778.28,2066.68 1773.31,2062.91 1779.55,2062.78" fill="#b3242a"/>
<polygon points="1781.6,2083.48 1783.65,2089.38 1789.89,2089.51 1784.92,2093.28 1786.72,2099.25 1781.6,2095.69 1776.48,2099.25 1778.28,2093.28 1773.31,2089.51 1779.55,2089.38" fill="#0c0e84"/>
<text x="1804" y="2070.6" font-size="16.9">MAS-Seq with phasing</text>
<text x="1804" y="2097.4" font-size="16.9">MAS-Seq without phasing</text>
</svg>
</body></html>
